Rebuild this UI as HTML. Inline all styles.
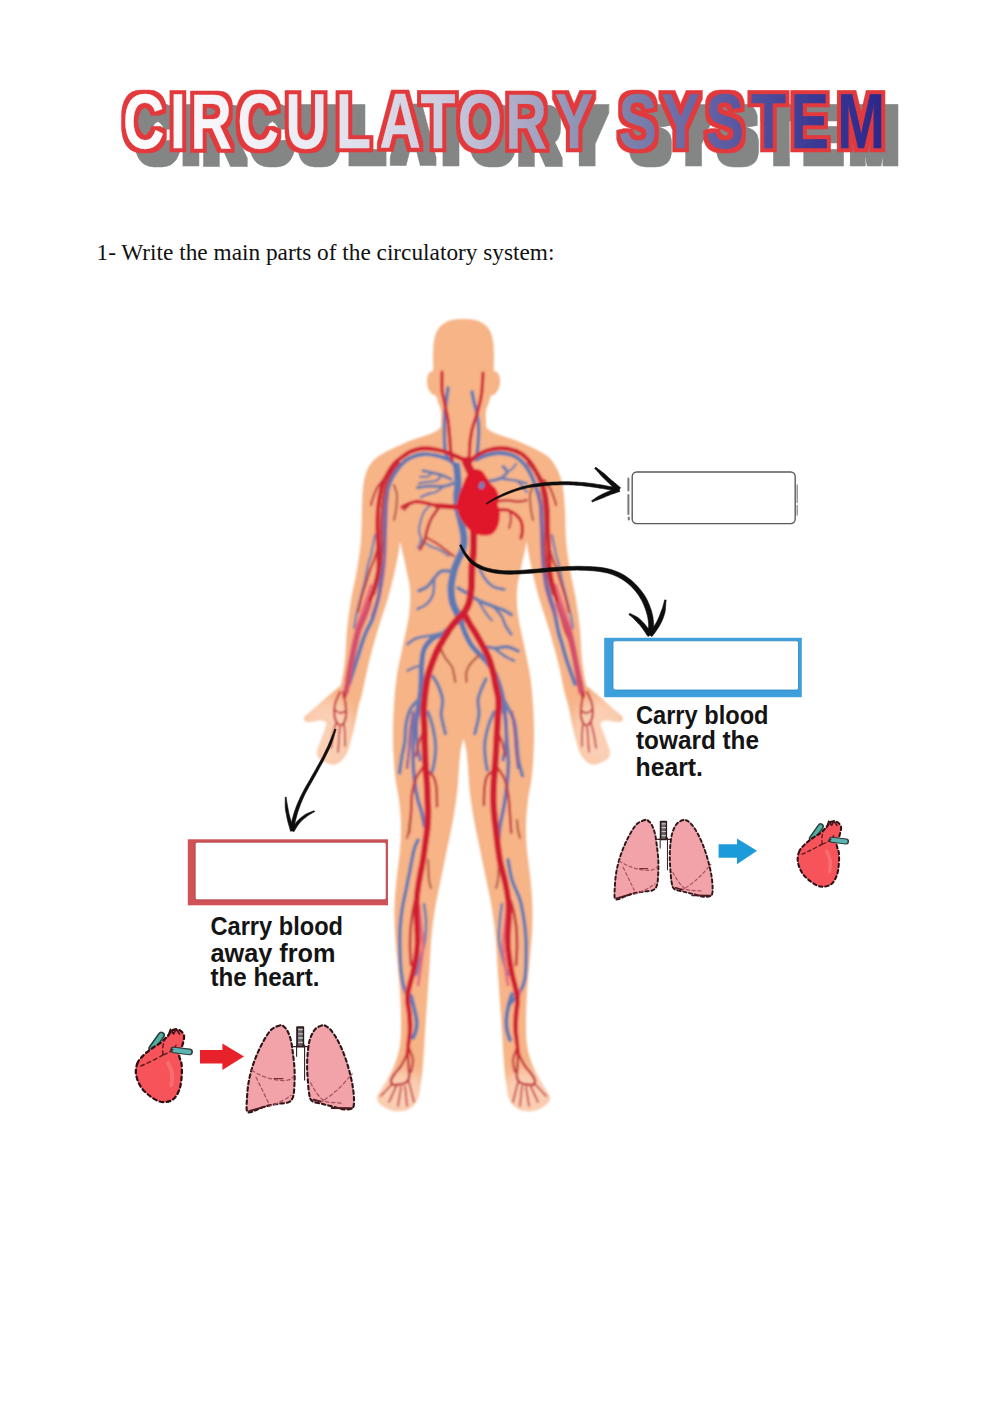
<!DOCTYPE html>
<html><head><meta charset="utf-8"><title>Circulatory System</title>
<style>
html,body{margin:0;padding:0;background:#fff;}
body{width:1000px;height:1413px;overflow:hidden;position:relative;}
svg{position:absolute;left:0;top:0;display:block;}
.title{font-family:"Liberation Sans",sans-serif;font-weight:bold;font-size:77.8px;}
.q{font-family:"Liberation Serif",serif;font-size:23.3px;fill:#111;}
.cap{font-family:"Liberation Sans","DejaVu Sans",sans-serif;font-weight:bold;font-size:25.5px;fill:#141414;}
.art{fill:none;stroke:#d3202f;stroke-linecap:round;stroke-linejoin:round;}
.vein{fill:none;stroke:#5f7fb6;stroke-linecap:round;stroke-linejoin:round;}
.arrow{fill:none;stroke:#111;stroke-linecap:round;stroke-linejoin:round;}
</style></head>
<body>
<svg width="1000" height="1413" viewBox="0 0 1000 1413">
<defs>
<linearGradient id="tg" gradientUnits="userSpaceOnUse" x1="170" y1="0" x2="1210" y2="0">
<stop offset="0" stop-color="#ffffff"/>
<stop offset="0.23" stop-color="#ececf4"/>
<stop offset="0.41" stop-color="#cdcde0"/>
<stop offset="0.52" stop-color="#aaaac6"/>
<stop offset="0.59" stop-color="#9094b4"/>
<stop offset="0.675" stop-color="#787daa"/>
<stop offset="0.785" stop-color="#5c5ca2"/>
<stop offset="0.9" stop-color="#3a3a94"/>
<stop offset="1" stop-color="#2a268a"/>
</linearGradient>
<filter id="wordart" filterUnits="userSpaceOnUse" x="100" y="-90" width="1200" height="140" color-interpolation-filters="sRGB">
<feMorphology in="SourceAlpha" operator="dilate" radius="5.3 3.9" result="d"/>
<feFlood flood-color="#e2393c"/><feComposite in2="d" operator="in" result="redsil"/>
<feOffset in="d" dx="18.2" dy="13.9" result="so"/>
<feFlood flood-color="#848686"/><feComposite in2="so" operator="in" result="shadow"/>
<feMerge><feMergeNode in="shadow"/><feMergeNode in="redsil"/><feMergeNode in="SourceGraphic"/></feMerge>
</filter>
<filter id="soft" x="-5%" y="-5%" width="110%" height="110%"><feGaussianBlur stdDeviation="1"/></filter>
<filter id="soft6" x="-20%" y="-20%" width="140%" height="140%"><feGaussianBlur stdDeviation="6"/></filter>
<filter id="soft2" x="-5%" y="-5%" width="110%" height="110%"><feGaussianBlur stdDeviation="0.55"/></filter>
</defs>
<!-- TITLE -->
<g id="title">
<g transform="translate(0,147.7) scale(0.735,1)" filter="url(#wordart)"><text class="title" x="167.3 231.4 259.2 323.1 388.3 457.1 516.2 572.2 622.8 687.8 755.0 816.3 841.8 899.9 960.2 1021.8 1075.7 1139.0" y="0" fill="url(#tg)" stroke="url(#tg)" stroke-width="0.3" stroke-linejoin="miter" stroke-miterlimit="3" style="vector-effect:non-scaling-stroke">CIRCULATORY SYSTEM</text></g>
</g>
<text class="q" x="96.5" y="259.5">1- Write the main parts of the circulatory system:</text>
<!-- BODY -->
<g id="body" filter="url(#soft)">
<clipPath id="bodyclip"><path d="M463.5 319.0C459.7 319.0 455.4 319.2 452.0 320.0C448.6 320.8 445.5 322.2 443.0 324.0C440.5 325.8 438.5 328.2 437.0 331.0C435.5 333.8 434.7 337.0 434.0 341.0C433.3 345.0 433.2 350.2 433.0 355.0C432.8 359.8 433.7 367.0 433.0 370.0C432.3 373.0 430.0 371.3 429.0 373.0C428.0 374.7 427.2 377.5 427.0 380.0C426.8 382.5 427.2 385.7 428.0 388.0C428.8 390.3 430.7 392.7 432.0 394.0C433.3 395.3 435.0 394.7 436.0 396.0C437.0 397.3 437.2 399.5 438.0 402.0C438.8 404.5 440.5 408.0 441.0 411.0C441.5 414.0 441.2 417.2 441.0 420.0C440.8 422.8 441.8 425.7 440.0 428.0C438.2 430.3 434.2 432.2 430.0 434.0C425.8 435.8 420.3 437.0 415.0 439.0C409.7 441.0 403.5 443.5 398.0 446.0C392.5 448.5 386.3 451.3 382.0 454.0C377.7 456.7 374.7 458.8 372.0 462.0C369.3 465.2 367.5 468.7 366.0 473.0C364.5 477.3 363.7 481.8 363.0 488.0C362.3 494.2 362.3 501.3 362.0 510.0C361.7 518.7 361.8 530.0 361.0 540.0C360.2 550.0 358.7 560.0 357.0 570.0C355.3 580.0 352.7 590.0 351.0 600.0C349.3 610.0 348.0 620.0 347.0 630.0C346.0 640.0 346.0 651.0 345.0 660.0C344.0 669.0 342.3 679.2 341.0 684.0C339.7 688.8 339.3 686.3 337.0 688.5C334.7 690.7 330.3 694.1 327.0 697.0C323.7 699.9 320.0 703.3 317.0 706.0C314.0 708.7 311.1 711.2 309.0 713.0C306.9 714.8 305.2 715.6 304.6 717.0C304.0 718.4 304.0 720.5 305.2 721.3C306.4 722.1 309.3 721.9 312.0 721.8C314.7 721.6 319.1 720.1 321.5 720.4C323.9 720.7 326.2 721.4 326.5 723.5C326.8 725.6 324.7 729.6 323.5 733.0C322.3 736.4 320.6 741.0 319.5 744.0C318.4 747.0 317.4 748.8 317.2 751.0C316.9 753.2 317.2 755.4 318.0 757.0C318.8 758.6 320.3 759.5 322.0 760.5C323.7 761.5 326.1 762.6 328.0 763.3C329.9 764.0 331.7 764.7 333.5 764.6C335.3 764.5 337.2 763.7 339.0 762.5C340.8 761.3 342.5 759.4 344.0 757.5C345.5 755.6 346.6 754.2 347.8 751.0C349.1 747.8 350.3 742.5 351.5 738.0C352.7 733.5 353.8 729.3 355.0 724.0C356.2 718.7 357.4 711.3 358.6 706.0C359.9 700.7 360.8 699.3 362.5 692.0C364.2 684.7 366.2 673.0 369.0 662.0C371.8 651.0 375.8 636.7 379.0 626.0C382.2 615.3 385.3 607.3 388.0 598.0C390.7 588.7 393.2 578.0 395.0 570.0C396.8 562.0 398.2 554.7 399.0 550.0C399.8 545.3 399.5 542.0 400.0 542.0C400.5 542.0 401.0 545.7 402.0 550.0C403.0 554.3 404.7 561.3 406.0 568.0C407.3 574.7 409.5 582.2 410.0 590.0C410.5 597.8 410.2 605.8 409.0 615.0C407.8 624.2 405.0 635.0 403.0 645.0C401.0 655.0 398.5 665.0 397.0 675.0C395.5 685.0 394.7 694.2 394.0 705.0C393.3 715.8 392.8 728.3 393.0 740.0C393.2 751.7 394.0 765.0 395.0 775.0C396.0 785.0 398.0 791.7 399.0 800.0C400.0 808.3 400.8 816.7 401.0 825.0C401.2 833.3 400.8 840.8 400.0 850.0C399.2 859.2 397.4 870.8 396.5 880.0C395.6 889.2 394.9 896.7 394.6 905.0C394.3 913.3 394.4 921.7 394.8 930.0C395.2 938.3 396.0 945.8 396.8 955.0C397.6 964.2 398.8 975.8 399.5 985.0C400.2 994.2 400.6 1002.5 400.8 1010.0C401.1 1017.5 401.1 1024.2 401.0 1030.0C400.9 1035.8 400.7 1040.3 400.0 1045.0C399.3 1049.7 398.2 1054.2 397.0 1058.0C395.8 1061.8 394.7 1064.3 393.0 1068.0C391.3 1071.7 389.0 1076.3 387.0 1080.0C385.0 1083.7 382.6 1087.2 381.0 1090.0C379.4 1092.8 377.6 1094.5 377.2 1096.5C376.8 1098.5 377.2 1100.2 378.5 1102.0C379.8 1103.8 382.2 1106.0 385.0 1107.5C387.8 1109.0 391.7 1110.5 395.0 1111.0C398.3 1111.5 402.0 1111.3 405.0 1110.5C408.0 1109.7 410.8 1108.2 413.0 1106.0C415.2 1103.8 417.2 1100.5 418.5 1097.0C419.8 1093.5 419.9 1089.2 420.5 1085.0C421.1 1080.8 421.8 1077.5 422.3 1072.0C422.9 1066.5 423.3 1059.3 423.8 1052.0C424.3 1044.7 424.7 1036.7 425.3 1028.0C425.9 1019.3 426.5 1010.5 427.2 1000.0C427.9 989.5 428.9 975.8 429.6 965.0C430.3 954.2 430.8 943.8 431.6 935.0C432.4 926.2 433.5 918.7 434.5 912.0C435.5 905.3 436.3 901.7 437.6 895.0C438.9 888.3 441.0 879.0 442.4 872.0C443.8 865.0 445.0 858.7 446.2 853.0C447.4 847.3 448.3 843.3 449.4 838.0C450.5 832.7 451.8 826.5 452.8 821.0C453.8 815.5 454.6 810.5 455.4 805.0C456.2 799.5 457.0 793.8 457.6 788.0C458.2 782.2 458.4 775.7 458.8 770.0C459.2 764.3 459.7 758.3 460.2 754.0C460.7 749.7 461.4 746.4 462.0 744.0C462.6 741.6 463.0 739.5 463.5 739.5C464.0 739.5 464.4 741.6 465.0 744.0C465.6 746.4 466.3 749.7 466.8 754.0C467.3 758.3 467.8 764.3 468.2 770.0C468.6 775.7 468.8 782.2 469.4 788.0C470.0 793.8 470.8 799.5 471.6 805.0C472.4 810.5 473.2 815.5 474.2 821.0C475.2 826.5 476.5 832.7 477.6 838.0C478.7 843.3 479.6 847.3 480.8 853.0C482.0 858.7 483.2 865.0 484.6 872.0C486.0 879.0 488.1 888.3 489.4 895.0C490.7 901.7 491.5 905.3 492.5 912.0C493.5 918.7 494.6 926.2 495.4 935.0C496.2 943.8 496.7 954.2 497.4 965.0C498.1 975.8 499.1 989.5 499.8 1000.0C500.5 1010.5 501.1 1019.3 501.7 1028.0C502.3 1036.7 502.7 1044.7 503.2 1052.0C503.7 1059.3 504.1 1066.5 504.7 1072.0C505.2 1077.5 505.9 1080.8 506.5 1085.0C507.1 1089.2 507.2 1093.5 508.5 1097.0C509.8 1100.5 511.8 1103.8 514.0 1106.0C516.2 1108.2 519.0 1109.7 522.0 1110.5C525.0 1111.3 528.7 1111.5 532.0 1111.0C535.3 1110.5 539.2 1109.0 542.0 1107.5C544.8 1106.0 547.2 1103.8 548.5 1102.0C549.8 1100.2 550.2 1098.5 549.8 1096.5C549.4 1094.5 547.6 1092.8 546.0 1090.0C544.4 1087.2 542.0 1083.7 540.0 1080.0C538.0 1076.3 535.7 1071.7 534.0 1068.0C532.3 1064.3 531.2 1061.8 530.0 1058.0C528.8 1054.2 527.7 1049.7 527.0 1045.0C526.3 1040.3 526.1 1035.8 526.0 1030.0C525.9 1024.2 526.0 1017.5 526.2 1010.0C526.5 1002.5 526.8 994.2 527.5 985.0C528.2 975.8 529.4 964.2 530.2 955.0C531.0 945.8 531.8 938.3 532.2 930.0C532.6 921.7 532.7 913.3 532.4 905.0C532.1 896.7 531.4 889.2 530.5 880.0C529.6 870.8 527.8 859.2 527.0 850.0C526.2 840.8 525.8 833.3 526.0 825.0C526.2 816.7 527.0 808.3 528.0 800.0C529.0 791.7 531.0 785.0 532.0 775.0C533.0 765.0 533.8 751.7 534.0 740.0C534.2 728.3 533.7 715.8 533.0 705.0C532.3 694.2 531.5 685.0 530.0 675.0C528.5 665.0 526.0 655.0 524.0 645.0C522.0 635.0 519.2 624.2 518.0 615.0C516.8 605.8 516.5 597.8 517.0 590.0C517.5 582.2 519.7 574.7 521.0 568.0C522.3 561.3 524.0 554.3 525.0 550.0C526.0 545.7 526.5 542.0 527.0 542.0C527.5 542.0 527.2 545.3 528.0 550.0C528.8 554.7 530.2 562.0 532.0 570.0C533.8 578.0 536.3 588.7 539.0 598.0C541.7 607.3 544.8 615.3 548.0 626.0C551.2 636.7 555.2 651.0 558.0 662.0C560.8 673.0 562.8 684.7 564.5 692.0C566.2 699.3 567.1 700.7 568.4 706.0C569.6 711.3 570.8 718.7 572.0 724.0C573.2 729.3 574.3 733.5 575.5 738.0C576.7 742.5 578.0 747.8 579.2 751.0C580.5 754.2 581.5 755.6 583.0 757.5C584.5 759.4 586.2 761.3 588.0 762.5C589.8 763.7 591.7 764.5 593.5 764.6C595.3 764.7 597.1 764.0 599.0 763.3C600.9 762.6 603.3 761.5 605.0 760.5C606.7 759.5 608.2 758.6 609.0 757.0C609.8 755.4 610.0 753.2 609.8 751.0C609.5 748.8 608.5 747.0 607.5 744.0C606.5 741.0 604.7 736.4 603.5 733.0C602.3 729.6 600.2 725.6 600.5 723.5C600.8 721.4 603.1 720.7 605.5 720.4C607.9 720.1 612.3 721.6 615.0 721.8C617.7 721.9 620.6 722.1 621.8 721.3C623.0 720.5 623.0 718.4 622.4 717.0C621.8 715.6 620.1 714.8 618.0 713.0C615.9 711.2 613.0 708.7 610.0 706.0C607.0 703.3 603.3 699.9 600.0 697.0C596.7 694.1 592.3 690.7 590.0 688.5C587.7 686.3 587.3 688.8 586.0 684.0C584.7 679.2 583.0 669.0 582.0 660.0C581.0 651.0 581.0 640.0 580.0 630.0C579.0 620.0 577.7 610.0 576.0 600.0C574.3 590.0 571.7 580.0 570.0 570.0C568.3 560.0 566.8 550.0 566.0 540.0C565.2 530.0 565.6 519.0 565.0 510.0C564.4 501.0 563.7 492.3 562.6 486.0C561.5 479.7 560.2 476.2 558.4 472.0C556.6 467.8 554.4 463.8 552.0 460.8C549.6 457.8 547.8 456.3 544.0 453.8C540.2 451.3 534.3 448.5 529.0 446.0C523.7 443.5 517.3 441.0 512.0 439.0C506.7 437.0 501.2 435.8 497.0 434.0C492.8 432.2 488.8 430.3 487.0 428.0C485.2 425.7 486.2 422.8 486.0 420.0C485.8 417.2 485.5 414.0 486.0 411.0C486.5 408.0 488.2 404.5 489.0 402.0C489.8 399.5 490.0 397.3 491.0 396.0C492.0 394.7 493.7 395.3 495.0 394.0C496.3 392.7 498.2 390.3 499.0 388.0C499.8 385.7 500.2 382.5 500.0 380.0C499.8 377.5 499.0 374.7 498.0 373.0C497.0 371.3 494.7 373.0 494.0 370.0C493.3 367.0 494.2 359.8 494.0 355.0C493.8 350.2 493.7 345.0 493.0 341.0C492.3 337.0 491.5 333.8 490.0 331.0C488.5 328.2 486.5 325.8 484.0 324.0C481.5 322.2 478.4 320.8 475.0 320.0C471.6 319.2 467.3 319.0 463.5 319.0Z"/></clipPath>
<path d="M463.5 319.0C459.7 319.0 455.4 319.2 452.0 320.0C448.6 320.8 445.5 322.2 443.0 324.0C440.5 325.8 438.5 328.2 437.0 331.0C435.5 333.8 434.7 337.0 434.0 341.0C433.3 345.0 433.2 350.2 433.0 355.0C432.8 359.8 433.7 367.0 433.0 370.0C432.3 373.0 430.0 371.3 429.0 373.0C428.0 374.7 427.2 377.5 427.0 380.0C426.8 382.5 427.2 385.7 428.0 388.0C428.8 390.3 430.7 392.7 432.0 394.0C433.3 395.3 435.0 394.7 436.0 396.0C437.0 397.3 437.2 399.5 438.0 402.0C438.8 404.5 440.5 408.0 441.0 411.0C441.5 414.0 441.2 417.2 441.0 420.0C440.8 422.8 441.8 425.7 440.0 428.0C438.2 430.3 434.2 432.2 430.0 434.0C425.8 435.8 420.3 437.0 415.0 439.0C409.7 441.0 403.5 443.5 398.0 446.0C392.5 448.5 386.3 451.3 382.0 454.0C377.7 456.7 374.7 458.8 372.0 462.0C369.3 465.2 367.5 468.7 366.0 473.0C364.5 477.3 363.7 481.8 363.0 488.0C362.3 494.2 362.3 501.3 362.0 510.0C361.7 518.7 361.8 530.0 361.0 540.0C360.2 550.0 358.7 560.0 357.0 570.0C355.3 580.0 352.7 590.0 351.0 600.0C349.3 610.0 348.0 620.0 347.0 630.0C346.0 640.0 346.0 651.0 345.0 660.0C344.0 669.0 342.3 679.2 341.0 684.0C339.7 688.8 339.3 686.3 337.0 688.5C334.7 690.7 330.3 694.1 327.0 697.0C323.7 699.9 320.0 703.3 317.0 706.0C314.0 708.7 311.1 711.2 309.0 713.0C306.9 714.8 305.2 715.6 304.6 717.0C304.0 718.4 304.0 720.5 305.2 721.3C306.4 722.1 309.3 721.9 312.0 721.8C314.7 721.6 319.1 720.1 321.5 720.4C323.9 720.7 326.2 721.4 326.5 723.5C326.8 725.6 324.7 729.6 323.5 733.0C322.3 736.4 320.6 741.0 319.5 744.0C318.4 747.0 317.4 748.8 317.2 751.0C316.9 753.2 317.2 755.4 318.0 757.0C318.8 758.6 320.3 759.5 322.0 760.5C323.7 761.5 326.1 762.6 328.0 763.3C329.9 764.0 331.7 764.7 333.5 764.6C335.3 764.5 337.2 763.7 339.0 762.5C340.8 761.3 342.5 759.4 344.0 757.5C345.5 755.6 346.6 754.2 347.8 751.0C349.1 747.8 350.3 742.5 351.5 738.0C352.7 733.5 353.8 729.3 355.0 724.0C356.2 718.7 357.4 711.3 358.6 706.0C359.9 700.7 360.8 699.3 362.5 692.0C364.2 684.7 366.2 673.0 369.0 662.0C371.8 651.0 375.8 636.7 379.0 626.0C382.2 615.3 385.3 607.3 388.0 598.0C390.7 588.7 393.2 578.0 395.0 570.0C396.8 562.0 398.2 554.7 399.0 550.0C399.8 545.3 399.5 542.0 400.0 542.0C400.5 542.0 401.0 545.7 402.0 550.0C403.0 554.3 404.7 561.3 406.0 568.0C407.3 574.7 409.5 582.2 410.0 590.0C410.5 597.8 410.2 605.8 409.0 615.0C407.8 624.2 405.0 635.0 403.0 645.0C401.0 655.0 398.5 665.0 397.0 675.0C395.5 685.0 394.7 694.2 394.0 705.0C393.3 715.8 392.8 728.3 393.0 740.0C393.2 751.7 394.0 765.0 395.0 775.0C396.0 785.0 398.0 791.7 399.0 800.0C400.0 808.3 400.8 816.7 401.0 825.0C401.2 833.3 400.8 840.8 400.0 850.0C399.2 859.2 397.4 870.8 396.5 880.0C395.6 889.2 394.9 896.7 394.6 905.0C394.3 913.3 394.4 921.7 394.8 930.0C395.2 938.3 396.0 945.8 396.8 955.0C397.6 964.2 398.8 975.8 399.5 985.0C400.2 994.2 400.6 1002.5 400.8 1010.0C401.1 1017.5 401.1 1024.2 401.0 1030.0C400.9 1035.8 400.7 1040.3 400.0 1045.0C399.3 1049.7 398.2 1054.2 397.0 1058.0C395.8 1061.8 394.7 1064.3 393.0 1068.0C391.3 1071.7 389.0 1076.3 387.0 1080.0C385.0 1083.7 382.6 1087.2 381.0 1090.0C379.4 1092.8 377.6 1094.5 377.2 1096.5C376.8 1098.5 377.2 1100.2 378.5 1102.0C379.8 1103.8 382.2 1106.0 385.0 1107.5C387.8 1109.0 391.7 1110.5 395.0 1111.0C398.3 1111.5 402.0 1111.3 405.0 1110.5C408.0 1109.7 410.8 1108.2 413.0 1106.0C415.2 1103.8 417.2 1100.5 418.5 1097.0C419.8 1093.5 419.9 1089.2 420.5 1085.0C421.1 1080.8 421.8 1077.5 422.3 1072.0C422.9 1066.5 423.3 1059.3 423.8 1052.0C424.3 1044.7 424.7 1036.7 425.3 1028.0C425.9 1019.3 426.5 1010.5 427.2 1000.0C427.9 989.5 428.9 975.8 429.6 965.0C430.3 954.2 430.8 943.8 431.6 935.0C432.4 926.2 433.5 918.7 434.5 912.0C435.5 905.3 436.3 901.7 437.6 895.0C438.9 888.3 441.0 879.0 442.4 872.0C443.8 865.0 445.0 858.7 446.2 853.0C447.4 847.3 448.3 843.3 449.4 838.0C450.5 832.7 451.8 826.5 452.8 821.0C453.8 815.5 454.6 810.5 455.4 805.0C456.2 799.5 457.0 793.8 457.6 788.0C458.2 782.2 458.4 775.7 458.8 770.0C459.2 764.3 459.7 758.3 460.2 754.0C460.7 749.7 461.4 746.4 462.0 744.0C462.6 741.6 463.0 739.5 463.5 739.5C464.0 739.5 464.4 741.6 465.0 744.0C465.6 746.4 466.3 749.7 466.8 754.0C467.3 758.3 467.8 764.3 468.2 770.0C468.6 775.7 468.8 782.2 469.4 788.0C470.0 793.8 470.8 799.5 471.6 805.0C472.4 810.5 473.2 815.5 474.2 821.0C475.2 826.5 476.5 832.7 477.6 838.0C478.7 843.3 479.6 847.3 480.8 853.0C482.0 858.7 483.2 865.0 484.6 872.0C486.0 879.0 488.1 888.3 489.4 895.0C490.7 901.7 491.5 905.3 492.5 912.0C493.5 918.7 494.6 926.2 495.4 935.0C496.2 943.8 496.7 954.2 497.4 965.0C498.1 975.8 499.1 989.5 499.8 1000.0C500.5 1010.5 501.1 1019.3 501.7 1028.0C502.3 1036.7 502.7 1044.7 503.2 1052.0C503.7 1059.3 504.1 1066.5 504.7 1072.0C505.2 1077.5 505.9 1080.8 506.5 1085.0C507.1 1089.2 507.2 1093.5 508.5 1097.0C509.8 1100.5 511.8 1103.8 514.0 1106.0C516.2 1108.2 519.0 1109.7 522.0 1110.5C525.0 1111.3 528.7 1111.5 532.0 1111.0C535.3 1110.5 539.2 1109.0 542.0 1107.5C544.8 1106.0 547.2 1103.8 548.5 1102.0C549.8 1100.2 550.2 1098.5 549.8 1096.5C549.4 1094.5 547.6 1092.8 546.0 1090.0C544.4 1087.2 542.0 1083.7 540.0 1080.0C538.0 1076.3 535.7 1071.7 534.0 1068.0C532.3 1064.3 531.2 1061.8 530.0 1058.0C528.8 1054.2 527.7 1049.7 527.0 1045.0C526.3 1040.3 526.1 1035.8 526.0 1030.0C525.9 1024.2 526.0 1017.5 526.2 1010.0C526.5 1002.5 526.8 994.2 527.5 985.0C528.2 975.8 529.4 964.2 530.2 955.0C531.0 945.8 531.8 938.3 532.2 930.0C532.6 921.7 532.7 913.3 532.4 905.0C532.1 896.7 531.4 889.2 530.5 880.0C529.6 870.8 527.8 859.2 527.0 850.0C526.2 840.8 525.8 833.3 526.0 825.0C526.2 816.7 527.0 808.3 528.0 800.0C529.0 791.7 531.0 785.0 532.0 775.0C533.0 765.0 533.8 751.7 534.0 740.0C534.2 728.3 533.7 715.8 533.0 705.0C532.3 694.2 531.5 685.0 530.0 675.0C528.5 665.0 526.0 655.0 524.0 645.0C522.0 635.0 519.2 624.2 518.0 615.0C516.8 605.8 516.5 597.8 517.0 590.0C517.5 582.2 519.7 574.7 521.0 568.0C522.3 561.3 524.0 554.3 525.0 550.0C526.0 545.7 526.5 542.0 527.0 542.0C527.5 542.0 527.2 545.3 528.0 550.0C528.8 554.7 530.2 562.0 532.0 570.0C533.8 578.0 536.3 588.7 539.0 598.0C541.7 607.3 544.8 615.3 548.0 626.0C551.2 636.7 555.2 651.0 558.0 662.0C560.8 673.0 562.8 684.7 564.5 692.0C566.2 699.3 567.1 700.7 568.4 706.0C569.6 711.3 570.8 718.7 572.0 724.0C573.2 729.3 574.3 733.5 575.5 738.0C576.7 742.5 578.0 747.8 579.2 751.0C580.5 754.2 581.5 755.6 583.0 757.5C584.5 759.4 586.2 761.3 588.0 762.5C589.8 763.7 591.7 764.5 593.5 764.6C595.3 764.7 597.1 764.0 599.0 763.3C600.9 762.6 603.3 761.5 605.0 760.5C606.7 759.5 608.2 758.6 609.0 757.0C609.8 755.4 610.0 753.2 609.8 751.0C609.5 748.8 608.5 747.0 607.5 744.0C606.5 741.0 604.7 736.4 603.5 733.0C602.3 729.6 600.2 725.6 600.5 723.5C600.8 721.4 603.1 720.7 605.5 720.4C607.9 720.1 612.3 721.6 615.0 721.8C617.7 721.9 620.6 722.1 621.8 721.3C623.0 720.5 623.0 718.4 622.4 717.0C621.8 715.6 620.1 714.8 618.0 713.0C615.9 711.2 613.0 708.7 610.0 706.0C607.0 703.3 603.3 699.9 600.0 697.0C596.7 694.1 592.3 690.7 590.0 688.5C587.7 686.3 587.3 688.8 586.0 684.0C584.7 679.2 583.0 669.0 582.0 660.0C581.0 651.0 581.0 640.0 580.0 630.0C579.0 620.0 577.7 610.0 576.0 600.0C574.3 590.0 571.7 580.0 570.0 570.0C568.3 560.0 566.8 550.0 566.0 540.0C565.2 530.0 565.6 519.0 565.0 510.0C564.4 501.0 563.7 492.3 562.6 486.0C561.5 479.7 560.2 476.2 558.4 472.0C556.6 467.8 554.4 463.8 552.0 460.8C549.6 457.8 547.8 456.3 544.0 453.8C540.2 451.3 534.3 448.5 529.0 446.0C523.7 443.5 517.3 441.0 512.0 439.0C506.7 437.0 501.2 435.8 497.0 434.0C492.8 432.2 488.8 430.3 487.0 428.0C485.2 425.7 486.2 422.8 486.0 420.0C485.8 417.2 485.5 414.0 486.0 411.0C486.5 408.0 488.2 404.5 489.0 402.0C489.8 399.5 490.0 397.3 491.0 396.0C492.0 394.7 493.7 395.3 495.0 394.0C496.3 392.7 498.2 390.3 499.0 388.0C499.8 385.7 500.2 382.5 500.0 380.0C499.8 377.5 499.0 374.7 498.0 373.0C497.0 371.3 494.7 373.0 494.0 370.0C493.3 367.0 494.2 359.8 494.0 355.0C493.8 350.2 493.7 345.0 493.0 341.0C492.3 337.0 491.5 333.8 490.0 331.0C488.5 328.2 486.5 325.8 484.0 324.0C481.5 322.2 478.4 320.8 475.0 320.0C471.6 319.2 467.3 319.0 463.5 319.0Z" fill="#f6b487"/>
<g clip-path="url(#bodyclip)"><g fill="#ffe9df" opacity="0.5" filter="url(#soft6)"><ellipse cx="328" cy="734" rx="28" ry="36"/><ellipse cx="599" cy="734" rx="28" ry="36"/><ellipse cx="399" cy="1094" rx="28" ry="24"/><ellipse cx="528" cy="1094" rx="28" ry="24"/></g></g>
<g id="veins-arteries" fill="none" stroke-linecap="round" stroke-linejoin="round">
<path d="M456.6 466.0C456.8 468.7 458.0 477.0 458.0 482.0C458.0 487.0 456.8 491.3 456.8 496.0C456.8 500.7 457.2 505.3 458.0 510.0C458.8 514.7 460.5 519.3 461.5 524.0C462.5 528.7 463.8 533.8 464.0 538.0C464.2 542.2 463.9 545.5 463.0 549.0C462.1 552.5 459.9 555.7 458.5 559.0C457.1 562.3 455.5 565.6 454.5 568.8C453.5 572.0 453.0 574.8 452.4 578.0C451.8 581.2 451.0 584.0 451.0 588.0C451.0 592.0 451.5 598.0 452.4 602.0C453.3 606.0 455.2 608.5 456.6 611.8C458.0 615.1 460.1 620.0 460.8 621.6" stroke="#5b79b4" stroke-width="7.02"/>
<path d="M456.6 622.0C454.5 623.8 448.1 630.0 444.0 632.8C439.9 635.6 435.3 636.2 432.0 639.0C428.7 641.8 425.7 645.3 424.0 649.6C422.3 653.9 422.1 658.9 421.6 665.0C421.1 671.1 421.4 680.2 421.0 686.0C420.6 691.8 420.2 695.0 419.5 700.0C418.8 705.0 417.4 713.3 417.0 716.0" stroke="#5b79b4" stroke-width="5.10"/>
<path d="M418.5 706.0C417.8 708.7 415.4 716.0 414.5 722.0C413.6 728.0 413.4 735.2 413.2 742.0C413.0 748.8 413.0 756.5 413.2 763.0C413.4 769.5 413.9 775.4 414.6 781.2C415.3 787.0 416.2 792.9 417.4 798.0C418.6 803.1 420.4 807.3 421.6 812.0C422.8 816.7 423.9 823.7 424.4 826.0" stroke="#6a74b0" stroke-width="3.66"/>
<path d="M460.8 621.6C461.5 623.5 463.4 629.1 465.0 632.8C466.6 636.5 468.5 640.7 470.6 644.0C472.7 647.3 475.0 649.6 477.6 652.4C480.2 655.2 483.3 657.7 486.0 661.0C488.7 664.3 491.8 667.8 494.0 672.0C496.2 676.2 498.0 681.3 499.5 686.0C501.0 690.7 502.2 695.7 503.0 700.0C503.8 704.3 504.2 710.0 504.5 712.0" stroke="#5b79b4" stroke-width="5.10"/>
<path d="M503.5 704.0C503.8 706.8 504.9 714.7 505.5 721.0C506.1 727.3 506.5 735.0 507.0 742.0C507.5 749.0 508.4 756.0 508.4 763.0C508.4 770.0 507.7 777.0 507.0 784.0C506.3 791.0 505.4 798.0 504.2 805.0C503.0 812.0 500.9 820.2 500.0 826.0C499.1 831.8 498.8 837.7 498.6 840.0" stroke="#6a74b0" stroke-width="3.66"/>
<path d="M448.0 388.0C447.8 390.0 447.0 396.0 446.5 400.0C446.0 404.0 445.3 407.8 445.0 412.0C444.7 416.2 444.6 420.3 444.5 425.0C444.4 429.7 444.4 435.5 444.5 440.0C444.6 444.5 444.6 448.7 445.4 452.0C446.1 455.3 448.4 458.7 449.0 460.0" stroke="#5b79b4" stroke-width="3.42"/>
<path d="M472.0 392.0C472.3 393.7 473.2 398.7 474.0 402.0C474.8 405.3 475.8 408.3 476.5 412.0C477.2 415.7 478.2 419.7 478.5 424.0C478.8 428.3 478.7 433.7 478.5 438.0C478.3 442.3 477.9 446.4 477.5 450.0C477.1 453.6 476.4 458.0 476.2 459.6" stroke="#5b79b4" stroke-width="3.42"/>
<path d="M456.6 468.0C455.7 466.8 454.3 463.1 451.0 461.0C447.7 458.9 441.7 456.7 437.0 455.6C432.3 454.5 427.2 454.0 423.0 454.2C418.8 454.4 415.2 455.7 412.0 457.0C408.8 458.3 406.5 459.8 404.0 462.0C401.5 464.2 399.2 467.0 397.0 470.0C394.8 473.0 392.7 476.3 391.0 480.0C389.3 483.7 388.0 487.8 387.0 492.0C386.0 496.2 385.5 500.3 385.0 505.0C384.5 509.7 384.3 515.0 384.0 520.0C383.7 525.0 383.3 530.0 383.0 535.0C382.7 540.0 382.3 545.0 382.0 550.0C381.7 555.0 381.2 560.0 381.0 565.0C380.8 570.0 380.8 575.0 380.5 580.0C380.2 585.0 379.8 590.5 379.0 595.0C378.2 599.5 377.2 602.8 376.0 607.0C374.8 611.2 373.5 616.2 372.0 620.0C370.5 623.8 368.5 626.7 367.0 630.0C365.5 633.3 364.5 635.7 363.0 640.0C361.5 644.3 359.7 650.7 358.0 656.0C356.3 661.3 354.5 667.3 353.0 672.0C351.5 676.7 349.7 682.0 349.0 684.0" stroke="#5b79b4" stroke-width="3.90"/>
<path d="M476.2 459.6C477.8 458.9 482.0 456.5 486.0 455.4C490.0 454.3 495.3 452.9 500.0 453.0C504.7 453.1 509.9 454.1 514.0 456.0C518.1 457.9 521.6 461.2 524.5 464.5C527.4 467.8 529.5 471.9 531.5 476.0C533.5 480.1 535.0 484.3 536.5 489.0C538.0 493.7 539.7 499.5 540.5 504.0C541.3 508.5 541.2 511.7 541.5 516.0C541.8 520.3 541.8 524.3 542.0 530.0C542.2 535.7 542.7 543.3 543.0 550.0C543.3 556.7 543.2 563.3 544.0 570.0C544.8 576.7 546.3 583.3 548.0 590.0C549.7 596.7 552.3 603.3 554.0 610.0C555.7 616.7 556.7 624.3 558.0 630.0C559.3 635.7 560.7 639.3 562.0 644.0C563.3 648.7 564.7 653.7 566.0 658.0C567.3 662.3 568.5 665.7 570.0 670.0C571.5 674.3 574.2 681.7 575.0 684.0" stroke="#5b79b4" stroke-width="3.90"/>
<path d="M375.0 535.0C374.7 536.7 373.7 541.7 373.0 545.0C372.3 548.3 371.8 551.7 371.0 555.0C370.2 558.3 369.0 560.8 368.0 565.0C367.0 569.2 366.2 574.8 365.0 580.0C363.8 585.2 362.3 590.7 361.0 596.0C359.7 601.3 358.2 606.7 357.0 612.0C355.8 617.3 354.5 625.3 354.0 628.0" stroke="#6b7fae" stroke-width="2.22"/>
<path d="M552.0 535.0C552.3 536.7 553.3 541.7 554.0 545.0C554.7 548.3 555.2 551.7 556.0 555.0C556.8 558.3 558.0 560.8 559.0 565.0C560.0 569.2 560.8 574.8 562.0 580.0C563.2 585.2 564.7 590.7 566.0 596.0C567.3 601.3 568.8 606.7 570.0 612.0C571.2 617.3 572.5 625.3 573.0 628.0" stroke="#6b7fae" stroke-width="2.22"/>
<path d="M456.6 482.0C454.5 482.7 448.4 485.5 444.0 486.2C439.6 486.9 434.4 486.0 430.0 486.2C425.6 486.4 419.5 487.4 417.4 487.6" stroke="#6b7fae" stroke-width="3.18"/>
<path d="M451.0 479.2C449.4 478.5 444.7 476.2 441.2 475.0C437.7 473.8 433.0 472.9 430.0 472.2C427.0 471.5 424.2 471.0 423.0 470.8" stroke="#6b7fae" stroke-width="2.94"/>
<path d="M441.2 475.0C440.5 475.9 439.5 479.3 437.0 480.5C434.5 481.7 429.0 481.5 426.0 482.0C423.0 482.5 420.2 483.2 419.0 483.5" stroke="#6b7fae" stroke-width="2.46"/>
<path d="M444.0 486.2C442.7 487.2 438.7 490.7 436.0 492.0C433.3 493.3 430.5 493.2 428.0 494.0C425.5 494.8 422.2 496.5 421.0 497.0" stroke="#6b7fae" stroke-width="2.46"/>
<path d="M432.0 472.6C431.3 473.2 430.0 475.8 428.0 476.5C426.0 477.2 421.3 476.9 420.0 477.0" stroke="#6b7fae" stroke-width="2.22"/>
<path d="M430.0 505.0C429.0 506.2 425.5 509.5 424.0 512.0C422.5 514.5 421.8 517.0 421.0 520.0C420.2 523.0 419.0 526.7 419.0 530.0C419.0 533.3 421.2 537.0 421.0 540.0C420.8 543.0 418.5 546.7 418.0 548.0" stroke="#6b7fae" stroke-width="2.22"/>
<path d="M421.0 540.0C422.5 541.0 426.8 544.3 430.0 546.0C433.2 547.7 436.8 548.3 440.0 550.0C443.2 551.7 447.5 555.0 449.0 556.0" stroke="#6b7fae" stroke-width="2.22"/>
<path d="M487.4 481.5C489.5 481.0 496.7 480.1 500.0 478.5C503.3 476.9 506.5 474.2 507.0 472.2C507.5 470.2 503.7 467.5 503.0 466.6" stroke="#6b7fae" stroke-width="3.18"/>
<path d="M500.0 478.5C501.2 478.6 504.2 479.0 507.0 479.4C509.8 479.8 513.5 480.1 516.8 480.8C520.1 481.5 525.0 483.0 526.6 483.4" stroke="#6b7fae" stroke-width="2.70"/>
<path d="M507.0 472.2C507.8 471.7 510.5 470.4 512.0 469.0C513.5 467.6 515.3 464.8 516.0 464.0" stroke="#6b7fae" stroke-width="2.22"/>
<path d="M516.8 480.8C517.7 481.7 520.3 484.1 522.0 486.0C523.7 487.9 526.2 491.0 527.0 492.0" stroke="#6b7fae" stroke-width="2.22"/>
<path d="M452.0 571.2C450.2 571.2 444.2 570.0 441.2 571.2C438.2 572.4 436.5 575.6 434.2 578.2C431.9 580.8 429.8 584.5 427.2 586.6C424.6 588.7 420.2 590.1 418.8 590.8" stroke="#6b7fae" stroke-width="3.42"/>
<path d="M434.2 580.0C434.0 582.5 434.2 590.9 432.8 595.0C431.4 599.1 428.4 602.5 425.8 604.8C423.2 607.1 418.8 608.3 417.4 609.0" stroke="#6b7fae" stroke-width="2.70"/>
<path d="M444.0 632.8C441.7 633.3 434.7 634.7 430.0 635.6C425.3 636.5 419.7 637.0 416.0 638.4C412.3 639.8 409.0 643.1 407.6 644.0" stroke="#6b7fae" stroke-width="2.94"/>
<path d="M421.6 665.0C420.2 665.5 415.5 666.9 413.2 667.8C410.9 668.7 408.5 670.1 407.6 670.6" stroke="#6b7fae" stroke-width="2.46"/>
<path d="M432.8 676.2C433.7 677.8 436.8 682.0 438.4 686.0C440.0 690.0 442.1 695.3 442.6 700.0C443.1 704.7 441.0 709.3 441.2 714.0C441.4 718.7 443.3 724.7 444.0 728.0C444.7 731.3 445.2 732.7 445.4 733.6" stroke="#6b7fae" stroke-width="3.42"/>
<path d="M479.0 567.0C479.9 568.9 482.3 574.9 484.6 578.2C486.9 581.5 489.7 584.7 493.0 586.6C496.3 588.5 502.3 588.9 504.2 589.4" stroke="#6b7fae" stroke-width="2.94"/>
<path d="M458.0 588.0C459.6 588.9 464.3 591.5 467.8 593.6C471.3 595.7 474.8 598.5 479.0 600.6C483.2 602.7 488.8 604.6 493.0 606.2C497.2 607.8 501.2 609.0 504.2 610.4C507.2 611.8 510.0 613.9 511.2 614.6" stroke="#6b7fae" stroke-width="3.66"/>
<path d="M493.0 606.2C494.4 607.8 499.3 612.7 501.4 616.0C503.5 619.3 504.0 622.8 505.6 625.8C507.2 628.8 510.3 632.8 511.2 634.2" stroke="#6b7fae" stroke-width="2.94"/>
<path d="M479.0 602.0C480.2 603.9 483.9 610.2 486.0 613.2C488.1 616.2 490.7 619.0 491.6 620.2" stroke="#6b7fae" stroke-width="2.46"/>
<path d="M486.0 646.8C487.6 647.0 492.3 648.2 495.8 648.2C499.3 648.2 503.3 646.3 507.0 646.8C510.7 647.3 516.3 650.3 518.2 651.0" stroke="#6b7fae" stroke-width="3.42"/>
<path d="M495.8 649.6C497.4 650.8 502.6 654.7 505.6 656.6C508.6 658.5 512.6 660.1 514.0 660.8" stroke="#6b7fae" stroke-width="2.70"/>
<path d="M486.0 679.0C485.2 680.8 482.3 686.5 481.0 690.0C479.7 693.5 478.3 696.0 478.0 700.0C477.7 704.0 479.3 709.3 479.0 714.0C478.7 718.7 476.9 724.7 476.2 728.0C475.5 731.3 475.0 732.7 474.8 733.6" stroke="#6b7fae" stroke-width="3.42"/>
<path d="M418.0 700.0C416.7 701.7 412.0 705.8 410.0 710.0C408.0 714.2 406.9 719.7 406.0 725.0C405.1 730.3 405.5 736.8 404.8 742.0C404.1 747.2 402.9 750.9 402.0 756.0C401.1 761.1 399.9 770.0 399.5 772.8" stroke="#6b7fae" stroke-width="3.66"/>
<path d="M421.0 704.0C420.4 706.0 418.2 711.7 417.5 716.0C416.8 720.3 416.5 725.0 416.5 730.0C416.5 735.0 416.9 741.0 417.5 746.0C418.1 751.0 419.6 757.7 420.0 760.0" stroke="#6a74b0" stroke-width="3.18"/>
<path d="M413.0 712.0C412.6 715.0 411.2 723.7 410.5 730.0C409.8 736.3 409.6 743.7 409.0 750.0C408.4 756.3 407.3 765.0 407.0 768.0" stroke="#8d5f9f" stroke-width="2.46"/>
<path d="M428.0 712.0C428.7 714.0 430.9 719.7 432.0 724.0C433.1 728.3 434.2 733.8 434.8 738.0C435.4 742.2 435.7 744.8 435.6 749.0C435.5 753.2 434.8 759.2 434.2 763.0C433.6 766.8 432.4 770.5 432.0 772.0" stroke="#6b7fae" stroke-width="3.42"/>
<path d="M505.0 702.0C506.5 705.2 512.0 714.3 514.0 721.0C516.0 727.7 516.1 735.7 516.8 742.0C517.5 748.3 517.3 753.2 518.2 758.8C519.1 764.4 521.7 772.8 522.4 775.6" stroke="#6b7fae" stroke-width="3.66"/>
<path d="M502.0 704.0C502.6 706.0 504.8 711.7 505.5 716.0C506.2 720.3 506.5 725.0 506.5 730.0C506.5 735.0 506.1 741.0 505.5 746.0C504.9 751.0 503.4 757.7 503.0 760.0" stroke="#6a74b0" stroke-width="3.18"/>
<path d="M512.0 712.0C512.4 715.0 513.8 723.7 514.5 730.0C515.2 736.3 515.4 743.7 516.0 750.0C516.6 756.3 517.7 765.0 518.0 768.0" stroke="#8d5f9f" stroke-width="2.46"/>
<path d="M494.0 712.0C493.2 714.0 490.4 719.7 489.0 724.0C487.6 728.3 486.2 733.8 485.5 738.0C484.8 742.2 484.5 744.8 484.6 749.0C484.7 753.2 485.5 759.5 486.0 763.0C486.5 766.5 487.2 768.8 487.4 770.0" stroke="#6b7fae" stroke-width="3.42"/>
<path d="M418.0 840.0C417.3 841.7 415.3 845.0 414.0 850.0C412.7 855.0 411.3 863.3 410.0 870.0C408.7 876.7 407.3 883.3 406.0 890.0C404.7 896.7 403.0 903.3 402.0 910.0C401.0 916.7 400.3 923.3 400.0 930.0C399.7 936.7 399.8 943.3 400.0 950.0C400.2 956.7 400.3 963.7 401.0 970.0C401.7 976.3 402.7 983.3 404.0 988.0C405.3 992.7 407.5 995.3 409.0 998.0C410.5 1000.7 412.3 1003.0 413.0 1004.0" stroke="#5b79b4" stroke-width="3.42"/>
<path d="M508.0 860.0C508.7 863.3 510.0 873.3 512.0 880.0C514.0 886.7 518.0 893.3 520.0 900.0C522.0 906.7 523.0 913.3 524.0 920.0C525.0 926.7 525.7 933.3 526.0 940.0C526.3 946.7 526.2 953.7 526.0 960.0C525.8 966.3 525.8 973.0 525.0 978.0C524.2 983.0 522.7 986.7 521.0 990.0C519.3 993.3 516.8 995.7 515.0 998.0C513.2 1000.3 510.8 1003.0 510.0 1004.0" stroke="#5b79b4" stroke-width="3.42"/>
<path d="M424.0 904.0C424.3 906.7 425.8 914.0 426.0 920.0C426.2 926.0 426.0 933.3 425.0 940.0C424.0 946.7 421.5 954.2 420.0 960.0C418.5 965.8 416.7 972.5 416.0 975.0" stroke="#6b7fae" stroke-width="2.70"/>
<path d="M502.0 904.0C501.7 906.7 500.5 914.0 500.0 920.0C499.5 926.0 498.5 933.3 499.0 940.0C499.5 946.7 501.5 954.2 503.0 960.0C504.5 965.8 507.2 972.5 508.0 975.0" stroke="#6b7fae" stroke-width="2.70"/>
<path d="M419.0 905.0C419.3 908.3 420.3 918.3 421.0 925.0C421.7 931.7 423.0 938.3 423.0 945.0C423.0 951.7 421.8 958.3 421.0 965.0C420.2 971.7 418.5 981.7 418.0 985.0" stroke="#e7667f" stroke-width="2.70"/>
<path d="M507.0 905.0C506.7 908.3 505.7 918.3 505.0 925.0C504.3 931.7 503.0 938.3 503.0 945.0C503.0 951.7 504.2 958.3 505.0 965.0C505.8 971.7 507.5 981.7 508.0 985.0" stroke="#e7667f" stroke-width="2.70"/>
<path d="M411.0 996.0C411.5 998.0 413.1 1004.0 414.0 1008.0C414.9 1012.0 416.2 1016.3 416.5 1020.0C416.8 1023.7 416.6 1027.0 416.0 1030.0C415.4 1033.0 413.5 1036.7 413.0 1038.0" stroke="#5b79b4" stroke-width="3.90"/>
<path d="M512.0 994.0C511.4 996.0 509.4 1002.0 508.5 1006.0C507.6 1010.0 506.8 1014.0 506.5 1018.0C506.2 1022.0 506.4 1026.3 507.0 1030.0C507.6 1033.7 509.5 1038.3 510.0 1040.0" stroke="#5b79b4" stroke-width="3.90"/>
<path d="M406.0 990.0C406.3 991.7 407.5 997.3 408.0 1000.0C408.5 1002.7 408.8 1005.0 409.0 1006.0" stroke="#e7667f" stroke-width="2.70"/>
<path d="M520.0 990.0C519.7 991.7 518.5 997.3 518.0 1000.0C517.5 1002.7 517.2 1005.0 517.0 1006.0" stroke="#e7667f" stroke-width="2.70"/>
<path d="M442.0 372.0C442.0 375.0 441.7 385.3 442.0 390.0C442.3 394.7 443.3 396.7 444.0 400.0C444.7 403.3 445.3 406.7 446.0 410.0C446.7 413.3 447.5 416.7 448.0 420.0C448.5 423.3 448.7 426.3 449.0 430.0C449.3 433.7 449.7 438.0 450.0 442.0C450.3 446.0 450.7 451.0 451.0 454.0C451.3 457.0 451.8 459.0 452.0 460.0" stroke="#d21f31" stroke-width="3.18"/>
<path d="M483.0 373.0C482.8 375.8 482.4 385.5 482.0 390.0C481.6 394.5 481.2 396.7 480.5 400.0C479.8 403.3 478.9 406.7 478.0 410.0C477.1 413.3 476.0 416.7 475.0 420.0C474.0 423.3 472.8 426.3 472.0 430.0C471.2 433.7 470.4 438.3 470.0 442.0C469.6 445.7 469.6 449.0 469.5 452.0C469.4 455.0 469.2 458.7 469.2 460.0" stroke="#d21f31" stroke-width="3.18"/>
<path d="M466.4 461.0C463.8 459.8 455.9 455.9 451.0 454.0C446.1 452.1 441.7 450.7 437.0 449.8C432.3 448.9 427.2 448.2 423.0 448.4C418.8 448.6 415.0 449.9 412.0 451.0C409.0 452.1 407.8 453.0 405.0 455.0C402.2 457.0 397.8 460.0 395.0 463.0C392.2 466.0 390.0 469.7 388.0 473.0C386.0 476.3 384.3 479.3 383.0 483.0C381.7 486.7 380.8 490.5 380.0 495.0C379.2 499.5 378.4 505.0 378.0 510.0C377.6 515.0 377.5 520.0 377.5 525.0C377.5 530.0 377.8 535.0 378.0 540.0C378.2 545.0 378.4 550.0 378.5 555.0C378.6 560.0 378.9 565.0 378.3 570.0C377.7 575.0 376.4 580.0 375.0 585.0C373.6 590.0 371.7 595.0 370.0 600.0C368.3 605.0 366.8 610.5 365.0 615.0C363.2 619.5 360.7 622.8 359.0 627.0C357.3 631.2 356.2 635.3 355.0 640.0C353.8 644.7 353.0 650.0 352.0 655.0C351.0 660.0 349.8 665.0 349.0 670.0C348.2 675.0 347.8 680.7 347.0 685.0C346.2 689.3 344.9 694.2 344.5 696.0" stroke="#d21f31" stroke-width="4.14"/>
<path d="M470.6 461.0C472.0 459.8 475.3 456.0 479.0 454.0C482.7 452.0 488.3 449.9 493.0 449.0C497.7 448.1 502.3 447.8 507.0 448.6C511.7 449.4 517.1 451.3 521.0 453.6C524.9 455.9 527.9 459.4 530.5 462.5C533.1 465.6 534.6 468.8 536.5 472.0C538.4 475.2 540.1 477.9 541.6 481.6C543.1 485.3 544.6 489.3 545.6 494.0C546.6 498.7 547.2 504.0 547.6 510.0C548.0 516.0 547.8 523.3 548.0 530.0C548.2 536.7 548.7 543.3 549.0 550.0C549.3 556.7 549.2 563.3 550.0 570.0C550.8 576.7 552.3 583.3 554.0 590.0C555.7 596.7 558.0 603.3 560.0 610.0C562.0 616.7 564.3 625.0 566.0 630.0C567.7 635.0 568.7 635.8 570.0 640.0C571.3 644.2 572.7 650.0 574.0 655.0C575.3 660.0 576.8 665.0 578.0 670.0C579.2 675.0 580.2 680.7 581.0 685.0C581.8 689.3 582.7 694.2 583.0 696.0" stroke="#d21f31" stroke-width="4.14"/>
<path d="M383.0 480.0C382.0 481.3 378.7 485.0 377.0 488.0C375.3 491.0 374.0 495.2 373.0 498.0C372.0 500.8 371.3 503.8 371.0 505.0" stroke="#c4343e" stroke-width="2.22"/>
<path d="M544.0 480.0C545.0 481.3 548.3 485.0 550.0 488.0C551.7 491.0 553.0 495.2 554.0 498.0C555.0 500.8 555.7 503.8 556.0 505.0" stroke="#c4343e" stroke-width="2.22"/>
<path d="M394.0 485.0C394.5 486.7 396.7 490.8 397.0 495.0C397.3 499.2 396.5 505.8 396.0 510.0C395.5 514.2 394.3 518.3 394.0 520.0" stroke="#b5563f" stroke-width="2.10"/>
<path d="M533.0 485.0C532.5 486.7 530.3 490.8 530.0 495.0C529.7 499.2 530.5 505.8 531.0 510.0C531.5 514.2 532.7 518.3 533.0 520.0" stroke="#b5563f" stroke-width="2.10"/>
<path d="M377.0 550.0C376.5 551.7 375.2 556.7 374.0 560.0C372.8 563.3 371.2 566.7 370.0 570.0C368.8 573.3 368.3 575.7 367.0 580.0C365.7 584.3 363.5 590.7 362.0 596.0C360.5 601.3 358.7 609.3 358.0 612.0" stroke="#c4343e" stroke-width="2.22"/>
<path d="M550.0 550.0C550.5 551.7 551.8 556.7 553.0 560.0C554.2 563.3 555.8 566.7 557.0 570.0C558.2 573.3 558.7 575.7 560.0 580.0C561.3 584.3 563.5 590.7 565.0 596.0C566.5 601.3 568.3 609.3 569.0 612.0" stroke="#c4343e" stroke-width="2.22"/>
<path d="M371.0 585.0C370.2 587.5 367.7 595.0 366.0 600.0C364.3 605.0 362.7 610.0 361.0 615.0C359.3 620.0 357.5 624.5 356.0 630.0C354.5 635.5 353.2 642.2 352.0 648.0C350.8 653.8 350.0 659.7 349.0 665.0C348.0 670.3 346.5 677.5 346.0 680.0" stroke="#e7667f" stroke-width="2.46"/>
<path d="M556.0 585.0C556.8 587.5 559.3 595.0 561.0 600.0C562.7 605.0 564.3 610.0 566.0 615.0C567.7 620.0 569.5 624.5 571.0 630.0C572.5 635.5 573.8 642.2 575.0 648.0C576.2 653.8 577.0 659.7 578.0 665.0C579.0 670.3 580.5 677.5 581.0 680.0" stroke="#e7667f" stroke-width="2.46"/>
<path d="M399.0 463.0C397.8 464.5 394.1 468.5 392.0 472.0C389.9 475.5 387.9 479.7 386.5 484.0C385.1 488.3 384.2 493.0 383.5 498.0C382.8 503.0 382.3 508.7 382.0 514.0C381.7 519.3 381.5 524.7 381.5 530.0C381.5 535.3 382.1 540.7 382.0 546.0C381.9 551.3 381.6 556.7 381.0 562.0C380.4 567.3 379.7 572.7 378.5 578.0C377.3 583.3 374.8 591.3 374.0 594.0" stroke="#c4343e" stroke-width="2.70"/>
<path d="M528.0 463.0C529.2 464.5 532.9 468.5 535.0 472.0C537.1 475.5 539.1 479.7 540.5 484.0C541.9 488.3 542.8 493.0 543.5 498.0C544.2 503.0 544.7 508.7 545.0 514.0C545.3 519.3 545.5 524.7 545.5 530.0C545.5 535.3 544.9 540.7 545.0 546.0C545.1 551.3 545.4 556.7 546.0 562.0C546.6 567.3 547.3 572.7 548.5 578.0C549.7 583.3 552.2 591.3 553.0 594.0" stroke="#c4343e" stroke-width="2.70"/>
<path d="M388.0 492.0C387.8 494.7 386.8 502.7 386.5 508.0C386.2 513.3 386.2 518.7 386.0 524.0C385.8 529.3 385.7 534.7 385.5 540.0C385.3 545.3 385.3 550.7 385.0 556.0C384.7 561.3 384.2 566.7 383.5 572.0C382.8 577.3 382.1 583.0 381.0 588.0C379.9 593.0 378.5 597.3 377.0 602.0C375.5 606.7 372.8 613.7 372.0 616.0" stroke="#8d5f9f" stroke-width="2.46"/>
<path d="M539.0 492.0C539.2 494.7 540.2 502.7 540.5 508.0C540.8 513.3 540.8 518.7 541.0 524.0C541.2 529.3 541.3 534.7 541.5 540.0C541.7 545.3 541.7 550.7 542.0 556.0C542.3 561.3 542.8 566.7 543.5 572.0C544.2 577.3 544.9 583.0 546.0 588.0C547.1 593.0 548.5 597.3 550.0 602.0C551.5 606.7 554.2 613.7 555.0 616.0" stroke="#8d5f9f" stroke-width="2.46"/>
<path d="M369.0 604.0C368.2 606.3 365.7 613.7 364.0 618.0C362.3 622.3 360.4 625.8 359.0 630.0C357.6 634.2 356.6 638.5 355.5 643.0C354.4 647.5 353.4 652.5 352.5 657.0C351.6 661.5 350.8 665.8 350.0 670.0C349.2 674.2 348.7 678.3 348.0 682.0C347.3 685.7 346.3 690.3 346.0 692.0" stroke="#d4506c" stroke-width="5.34"/>
<path d="M558.0 604.0C558.8 606.3 561.3 613.7 563.0 618.0C564.7 622.3 566.6 625.8 568.0 630.0C569.4 634.2 570.4 638.5 571.5 643.0C572.6 647.5 573.6 652.5 574.5 657.0C575.4 661.5 576.2 665.8 577.0 670.0C577.8 674.2 578.3 678.3 579.0 682.0C579.7 685.7 580.7 690.3 581.0 692.0" stroke="#d4506c" stroke-width="5.34"/>
<path d="M340.0 692.0C339.2 694.0 335.9 700.0 335.0 704.0C334.1 708.0 334.0 712.7 334.5 716.0C335.0 719.3 336.6 722.7 338.0 724.0C339.4 725.3 341.7 725.3 343.0 724.0C344.3 722.7 345.6 719.3 346.0 716.0C346.4 712.7 346.0 708.0 345.5 704.0C345.0 700.0 343.4 694.0 343.0 692.0" stroke="#c4343e" stroke-width="2.10"/>
<path d="M587.0 692.0C587.8 694.0 591.1 700.0 592.0 704.0C592.9 708.0 593.0 712.7 592.5 716.0C592.0 719.3 590.4 722.7 589.0 724.0C587.6 725.3 585.3 725.3 584.0 724.0C582.7 722.7 581.4 719.3 581.0 716.0C580.6 712.7 581.0 708.0 581.5 704.0C582.0 700.0 583.6 694.0 584.0 692.0" stroke="#c4343e" stroke-width="2.10"/>
<path d="M335.0 710.0C335.8 710.5 338.2 712.8 340.0 713.0C341.8 713.2 345.0 711.3 346.0 711.0" stroke="#c4343e" stroke-width="1.86"/>
<path d="M592.0 710.0C591.2 710.5 588.8 712.8 587.0 713.0C585.2 713.2 582.0 711.3 581.0 711.0" stroke="#c4343e" stroke-width="1.86"/>
<path d="M336.0 723.0C335.5 725.0 333.8 730.8 333.0 735.0C332.2 739.2 331.3 745.8 331.0 748.0" stroke="#c4343e" stroke-width="1.74"/>
<path d="M591.0 723.0C591.5 725.0 593.2 730.8 594.0 735.0C594.8 739.2 595.7 745.8 596.0 748.0" stroke="#c4343e" stroke-width="1.74"/>
<path d="M340.0 725.0C339.8 727.2 339.3 733.5 339.0 738.0C338.7 742.5 338.2 749.7 338.0 752.0" stroke="#c4343e" stroke-width="1.74"/>
<path d="M587.0 725.0C587.2 727.2 587.7 733.5 588.0 738.0C588.3 742.5 588.8 749.7 589.0 752.0" stroke="#c4343e" stroke-width="1.74"/>
<path d="M344.0 723.0C344.2 725.0 344.8 731.2 345.0 735.0C345.2 738.8 345.0 744.2 345.0 746.0" stroke="#c4343e" stroke-width="1.74"/>
<path d="M583.0 723.0C582.8 725.0 582.2 731.2 582.0 735.0C581.8 738.8 582.0 744.2 582.0 746.0" stroke="#c4343e" stroke-width="1.74"/>
<path d="M466.0 461.0C466.4 462.0 467.5 464.8 468.5 467.0C469.5 469.2 470.9 471.8 472.0 474.0C473.1 476.2 474.5 479.0 475.0 480.0" stroke="#d21f31" stroke-width="8.70"/>
<path d="M460.0 507.2C458.0 507.1 452.0 506.7 448.2 506.5C444.4 506.3 438.9 505.9 437.0 505.8" stroke="#d21f31" stroke-width="5.10"/>
<path d="M437.0 505.8C435.1 505.3 429.3 503.7 425.8 503.0C422.3 502.3 419.0 501.4 416.0 501.6C413.0 501.8 409.9 503.5 407.6 504.4C405.3 505.3 402.9 506.7 402.0 507.2" stroke="#d21f31" stroke-width="3.42"/>
<path d="M409.0 505.0C408.2 505.8 404.8 509.2 404.0 510.0" stroke="#c4343e" stroke-width="2.22"/>
<path d="M439.0 507.2C437.7 509.1 433.4 514.7 431.4 518.4C429.4 522.1 428.4 525.9 427.2 529.6C426.0 533.3 425.6 537.5 424.4 540.8C423.2 544.1 420.9 547.8 420.2 549.2" stroke="#c4343e" stroke-width="2.94"/>
<path d="M427.2 538.0C428.8 538.9 433.5 541.3 437.0 543.6C440.5 545.9 445.4 549.9 448.2 552.0C451.0 554.1 452.9 555.5 453.8 556.2" stroke="#c4343e" stroke-width="2.22"/>
<path d="M496.0 510.0C497.8 510.0 503.8 509.3 507.0 510.0C510.2 510.7 513.1 512.3 515.4 514.2C517.7 516.1 519.8 518.4 521.0 521.2C522.2 524.0 522.4 528.2 522.4 531.0C522.4 533.8 521.2 536.8 521.0 538.0" stroke="#d21f31" stroke-width="3.18"/>
<path d="M495.8 501.6C497.7 501.4 503.3 500.2 507.0 500.2C510.7 500.2 514.9 501.6 518.2 501.6C521.5 501.6 525.2 500.4 526.6 500.2" stroke="#c4343e" stroke-width="2.46"/>
<path d="M510.0 511.5C510.2 512.9 511.2 517.2 511.0 520.0C510.8 522.8 509.3 526.7 509.0 528.0" stroke="#c4343e" stroke-width="2.10"/>
<path d="M441.2 649.6C441.9 651.0 443.5 655.0 445.4 658.0C447.3 661.0 450.8 663.8 452.4 667.8C454.0 671.8 454.7 679.5 455.2 681.8" stroke="#b5563f" stroke-width="2.22"/>
<path d="M479.0 655.2C477.6 656.6 472.7 660.8 470.6 663.6C468.5 666.4 467.1 669.0 466.4 672.0C465.7 675.0 466.4 680.2 466.4 681.8" stroke="#b5563f" stroke-width="2.22"/>
<path d="M425.8 770.0C427.0 770.9 431.1 772.8 432.8 775.6C434.6 778.4 435.6 781.7 436.3 786.8C437.0 791.9 436.9 803.1 437.0 806.4" stroke="#c4343e" stroke-width="2.46"/>
<path d="M423.0 767.2C421.8 769.1 417.9 773.7 416.0 778.4C414.1 783.1 412.6 789.6 411.8 795.2C411.0 800.8 411.6 805.7 411.1 812.0C410.6 818.3 409.4 829.5 409.0 833.0" stroke="#c4343e" stroke-width="2.46"/>
<path d="M494.7 770.0C493.5 770.9 489.1 772.8 487.4 775.6C485.7 778.4 485.2 781.9 484.6 786.8C484.0 791.7 484.0 802.0 483.9 805.0" stroke="#c4343e" stroke-width="2.46"/>
<path d="M497.2 767.2C498.4 769.1 502.3 773.7 504.2 778.4C506.1 783.1 507.5 789.6 508.4 795.2C509.3 800.8 509.3 805.7 509.8 812.0C510.3 818.3 511.0 829.5 511.2 833.0" stroke="#c4343e" stroke-width="2.46"/>
<path d="M424.0 730.0C423.2 732.0 420.3 737.7 419.0 742.0C417.7 746.3 416.5 753.7 416.0 756.0" stroke="#c4343e" stroke-width="2.22"/>
<path d="M497.0 730.0C497.8 732.0 500.7 737.7 502.0 742.0C503.3 746.3 504.5 753.7 505.0 756.0" stroke="#c4343e" stroke-width="2.22"/>
<path d="M410.0 820.0C409.8 821.7 409.5 827.0 409.0 830.0C408.5 833.0 407.3 836.7 407.0 838.0" stroke="#b5563f" stroke-width="2.10"/>
<path d="M428.0 860.0C428.2 863.3 428.5 875.3 429.0 880.0C429.5 884.7 430.7 886.7 431.0 888.0" stroke="#b5563f" stroke-width="2.10"/>
<path d="M517.0 820.0C517.2 821.7 517.5 827.0 518.0 830.0C518.5 833.0 519.7 836.7 520.0 838.0" stroke="#b5563f" stroke-width="2.10"/>
<path d="M499.0 860.0C498.8 863.3 498.5 875.3 498.0 880.0C497.5 884.7 496.3 886.7 496.0 888.0" stroke="#b5563f" stroke-width="2.10"/>
<path d="M419.0 890.0C418.2 892.5 415.3 899.2 414.0 905.0C412.7 910.8 411.7 918.3 411.0 925.0C410.3 931.7 410.0 938.3 410.0 945.0C410.0 951.7 410.8 961.7 411.0 965.0" stroke="#c4343e" stroke-width="2.70"/>
<path d="M506.0 890.0C507.0 892.5 510.3 899.2 512.0 905.0C513.7 910.8 515.2 918.3 516.0 925.0C516.8 931.7 517.0 938.3 517.0 945.0C517.0 951.7 516.2 961.7 516.0 965.0" stroke="#c4343e" stroke-width="2.70"/>
<path d="M407.2 1054.0C406.2 1056.0 403.1 1062.7 401.0 1066.0C398.9 1069.3 396.2 1071.5 394.5 1074.0C392.8 1076.5 391.1 1079.2 391.0 1081.0C390.9 1082.8 391.7 1084.7 394.0 1085.0C396.3 1085.3 402.5 1084.2 405.0 1083.0C407.5 1081.8 408.4 1080.8 409.0 1078.0C409.6 1075.2 408.7 1069.7 408.5 1066.0C408.3 1062.3 408.1 1057.7 408.0 1056.0" stroke="#c4343e" stroke-width="2.46"/>
<path d="M409.0 1048.0C409.7 1050.0 412.7 1056.0 413.0 1060.0C413.3 1064.0 411.3 1070.0 411.0 1072.0" stroke="#c4343e" stroke-width="2.22"/>
<path d="M518.5 1054.0C519.6 1056.0 522.8 1062.7 525.0 1066.0C527.2 1069.3 529.8 1071.5 531.5 1074.0C533.2 1076.5 534.9 1079.2 535.0 1081.0C535.1 1082.8 534.3 1084.7 532.0 1085.0C529.7 1085.3 523.5 1084.2 521.0 1083.0C518.5 1081.8 517.6 1080.8 517.0 1078.0C516.4 1075.2 517.3 1069.7 517.5 1066.0C517.7 1062.3 517.9 1057.7 518.0 1056.0" stroke="#c4343e" stroke-width="2.46"/>
<path d="M517.0 1048.0C516.3 1050.0 513.3 1056.0 513.0 1060.0C512.7 1064.0 514.7 1070.0 515.0 1072.0" stroke="#c4343e" stroke-width="2.22"/>
<path d="M392.0 1084.0C391.1 1085.0 388.3 1088.0 386.5 1090.0C384.7 1092.0 381.9 1095.0 381.0 1096.0" stroke="#c4343e" stroke-width="1.74"/>
<path d="M535.0 1084.0C535.9 1085.0 538.7 1088.0 540.5 1090.0C542.3 1092.0 545.1 1095.0 546.0 1096.0" stroke="#c4343e" stroke-width="1.74"/>
<path d="M396.0 1087.0C395.4 1088.2 393.7 1092.0 392.5 1094.5C391.3 1097.0 389.6 1100.8 389.0 1102.0" stroke="#c4343e" stroke-width="1.74"/>
<path d="M531.0 1087.0C531.6 1088.2 533.3 1092.0 534.5 1094.5C535.7 1097.0 537.4 1100.8 538.0 1102.0" stroke="#c4343e" stroke-width="1.74"/>
<path d="M401.0 1087.0C400.8 1088.6 400.0 1093.3 399.5 1096.5C399.0 1099.7 398.2 1104.4 398.0 1106.0" stroke="#c4343e" stroke-width="1.74"/>
<path d="M526.0 1087.0C526.2 1088.6 527.0 1093.3 527.5 1096.5C528.0 1099.7 528.8 1104.4 529.0 1106.0" stroke="#c4343e" stroke-width="1.74"/>
<path d="M405.0 1086.0C405.2 1087.7 405.7 1092.7 406.0 1096.0C406.3 1099.3 406.8 1104.3 407.0 1106.0" stroke="#c4343e" stroke-width="1.74"/>
<path d="M522.0 1086.0C521.8 1087.7 521.3 1092.7 521.0 1096.0C520.7 1099.3 520.2 1104.3 520.0 1106.0" stroke="#c4343e" stroke-width="1.74"/>
<path d="M409.0 1082.0C409.4 1083.7 410.7 1088.7 411.5 1092.0C412.3 1095.3 413.6 1100.3 414.0 1102.0" stroke="#c4343e" stroke-width="1.74"/>
<path d="M518.0 1082.0C517.6 1083.7 516.3 1088.7 515.5 1092.0C514.7 1095.3 513.4 1100.3 513.0 1102.0" stroke="#c4343e" stroke-width="1.74"/>
<path d="M469.9 528.1L469.9 530.2L470.0 533.3L470.1 536.8L470.1 540.0L470.1 543.0L470.1 545.8L470.0 548.7L469.9 551.8L469.6 555.0L469.2 558.5L468.8 562.1L468.5 565.8L468.3 569.5L468.2 573.3L468.1 576.8L468.0 579.9L468.0 582.3L468.0 584.0L468.0 585.5L467.8 587.7L467.5 590.8L467.1 594.4L466.5 598.0L465.9 601.1L465.0 603.6L464.0 605.8L462.9 607.9L461.7 609.8L460.4 611.5L459.0 612.9L457.3 614.6L455.5 616.5L453.7 618.5L451.9 620.5L450.1 622.7L448.2 625.2L446.4 627.9L444.6 630.7L442.8 633.7L441.1 636.7L439.3 639.7L437.5 642.8L435.6 646.1L433.9 649.5L432.4 653.1L430.9 656.7L429.5 660.3L428.2 663.9L427.0 667.2L425.9 670.6L424.9 674.2L423.9 678.3L423.0 683.4L422.3 689.1L421.6 694.7L421.1 699.7L420.7 703.7L420.5 707.3L420.4 710.6L420.4 714.0L420.5 717.6L420.7 721.2L420.9 724.7L421.1 728.1L421.2 731.6L421.3 735.1L421.3 738.6L421.4 742.1L421.5 745.6L421.6 749.1L421.7 752.6L421.8 756.1L422.0 759.6L422.1 763.2L422.3 766.7L422.5 770.2L422.8 773.8L423.2 777.3L423.5 780.8L423.7 784.2L423.9 787.6L424.0 791.1L424.1 794.6L424.2 798.1L424.4 801.6L424.6 805.1L424.7 808.6L424.8 812.0L424.7 815.4L424.7 818.8L424.5 822.2L424.3 825.7L423.9 829.5L423.5 833.3L422.9 837.4L422.4 841.6L421.8 846.0L421.2 850.5L420.6 855.0L420.0 859.5L419.2 864.0L418.3 868.5L417.4 873.1L416.6 877.5L415.9 881.6L415.3 885.7L414.7 889.7L414.3 893.7L413.9 897.8L413.7 901.9L413.5 905.9L413.5 910.0L413.6 914.1L413.7 918.1L413.9 922.1L414.1 926.1L414.3 930.2L414.6 934.1L414.7 938.1L414.7 941.9L414.6 945.8L414.2 949.7L413.8 953.6L413.2 957.6L412.5 961.5L411.7 965.5L410.8 969.5L410.0 973.4L409.1 977.0L408.1 980.6L407.2 984.1L406.5 987.5L405.9 990.6L405.4 993.6L405.1 996.7L405.1 1000.1L405.4 1003.8L406.0 1007.7L406.7 1011.5L407.1 1015.2L407.4 1018.9L407.6 1022.7L407.7 1026.4L407.8 1029.9L407.6 1033.2L407.3 1036.3L406.9 1039.5L406.5 1042.8L406.2 1046.4L405.9 1050.1L405.6 1053.5L405.4 1055.8L409.0 1056.2L409.3 1053.8L409.6 1050.5L410.0 1046.7L410.5 1043.2L410.9 1040.1L411.5 1036.9L411.9 1033.6L412.2 1030.1L412.4 1026.4L412.3 1022.5L412.1 1018.7L411.9 1014.8L411.4 1010.8L410.7 1006.9L410.2 1003.3L409.9 999.9L410.1 997.0L410.4 994.3L410.9 991.5L411.5 988.5L412.3 985.3L413.2 981.9L414.2 978.4L415.2 974.6L416.2 970.8L417.1 966.7L418.0 962.6L418.8 958.4L419.4 954.4L419.9 950.3L420.2 946.2L420.5 942.1L420.5 937.9L420.3 933.9L420.1 929.8L419.9 925.9L419.7 921.9L419.5 917.9L419.4 913.9L419.3 910.0L419.4 906.1L419.5 902.1L419.8 898.2L420.1 894.3L420.6 890.4L421.2 886.6L421.9 882.6L422.6 878.5L423.4 874.2L424.3 869.7L425.2 865.1L426.0 860.5L426.8 855.9L427.4 851.3L428.0 846.8L428.6 842.4L429.2 838.2L429.8 834.2L430.3 830.2L430.7 826.3L431.0 822.5L431.1 819.0L431.2 815.5L431.2 812.0L431.2 808.4L431.1 804.9L430.9 801.4L430.8 797.9L430.7 794.4L430.6 790.9L430.4 787.4L430.3 783.8L430.0 780.2L429.7 776.7L429.3 773.2L429.1 769.8L428.9 766.3L428.7 762.8L428.5 759.4L428.4 755.9L428.3 752.4L428.2 748.9L428.1 745.4L428.0 741.9L427.9 738.4L427.9 734.9L427.8 731.4L427.7 727.9L427.5 724.3L427.3 720.8L427.1 717.4L427.0 714.0L427.0 710.7L427.1 707.6L427.4 704.2L427.7 700.3L428.2 695.5L428.9 689.9L429.7 684.4L430.5 679.7L431.4 675.8L432.3 672.6L433.4 669.4L434.6 666.1L435.8 662.6L437.2 659.2L438.6 655.7L440.1 652.5L441.7 649.3L443.4 646.2L445.2 643.1L446.9 640.1L448.7 637.2L450.4 634.3L452.1 631.6L453.8 629.2L455.5 627.0L457.1 625.0L458.9 623.0L460.5 621.1L462.1 619.4L463.8 617.8L465.6 616.0L467.3 613.8L468.8 611.4L470.2 608.9L471.5 606.1L472.5 602.9L473.4 599.3L474.0 595.4L474.4 591.6L474.8 588.3L475.0 585.9L475.0 584.0L475.0 582.3L475.0 580.1L475.1 577.0L475.2 573.5L475.3 569.8L475.5 566.2L475.8 562.8L476.2 559.3L476.6 555.7L476.9 552.2L477.0 549.0L477.1 545.9L477.1 543.0L477.1 540.0L477.1 536.7L477.0 533.2L477.0 530.1L476.9 527.9Z" fill="#d21f31" stroke="none"/>
<path d="M461.1 614.5L462.0 616.2L463.2 618.8L464.8 621.7L466.4 624.6L468.0 627.4L469.8 630.2L471.6 633.0L473.4 635.9L475.1 638.9L476.9 642.1L478.7 645.3L480.3 648.3L481.9 651.2L483.3 653.8L484.6 656.4L485.8 659.2L486.9 662.3L487.9 665.7L488.9 669.3L489.8 672.8L490.6 676.2L491.3 679.6L491.9 683.1L492.6 686.7L493.4 690.2L494.2 693.7L494.9 697.0L495.3 700.3L495.4 703.5L495.3 706.8L495.0 710.3L494.7 713.8L494.5 717.3L494.3 720.8L494.1 724.3L493.9 727.8L493.8 731.3L493.6 734.8L493.4 738.3L493.2 741.8L493.1 745.3L492.9 748.8L492.7 752.3L492.5 755.8L492.3 759.3L492.0 762.7L491.7 766.2L491.4 769.7L491.2 773.2L490.9 776.8L490.6 780.3L490.4 783.8L490.3 787.4L490.1 790.9L490.0 794.5L490.0 798.0L490.1 801.6L490.3 805.2L490.5 808.7L490.7 812.3L491.1 815.8L491.4 819.2L491.8 822.7L492.3 826.4L492.7 830.1L493.1 834.0L493.6 838.1L494.1 842.4L494.7 847.2L495.5 852.4L496.2 857.7L497.1 862.6L498.1 867.0L499.2 871.1L500.2 874.9L501.2 878.7L502.1 882.7L503.0 886.6L503.7 890.5L504.4 894.5L505.0 898.4L505.5 902.3L505.8 906.2L506.1 910.1L506.1 913.9L505.9 917.9L505.7 921.8L505.5 925.9L505.3 929.8L505.1 933.9L504.9 937.9L504.9 942.1L505.1 946.2L505.4 950.3L505.9 954.3L506.4 958.4L507.0 962.5L507.7 966.6L508.5 970.7L509.3 974.6L510.2 978.3L511.2 981.9L512.1 985.3L512.9 988.6L513.6 991.6L514.3 994.4L514.8 997.1L515.0 1000.0L514.9 1003.3L514.5 1007.0L514.0 1010.9L513.6 1014.8L513.4 1018.7L513.2 1022.6L513.2 1026.4L513.3 1030.1L513.6 1033.6L514.0 1036.9L514.5 1040.1L515.0 1043.2L515.5 1046.8L516.0 1050.5L516.4 1053.9L516.7 1056.2L520.3 1055.8L520.1 1053.5L519.7 1050.1L519.3 1046.3L519.0 1042.8L518.7 1039.5L518.4 1036.4L518.1 1033.2L517.9 1029.9L517.9 1026.4L518.0 1022.7L518.2 1018.9L518.4 1015.2L518.8 1011.5L519.3 1007.6L519.8 1003.7L520.0 1000.0L519.8 996.5L519.3 993.5L518.7 990.5L518.1 987.4L517.3 984.0L516.4 980.6L515.5 977.0L514.7 973.4L514.0 969.6L513.3 965.6L512.6 961.6L512.0 957.6L511.5 953.7L511.1 949.7L510.8 945.8L510.7 941.9L510.7 938.1L510.8 934.1L511.1 930.2L511.3 926.1L511.5 922.2L511.8 918.1L511.9 914.1L511.9 909.9L511.7 905.8L511.4 901.7L510.9 897.6L510.4 893.5L509.7 889.5L508.9 885.4L508.1 881.3L507.2 877.3L506.2 873.3L505.2 869.4L504.2 865.6L503.3 861.4L502.5 856.7L501.8 851.6L501.1 846.4L500.5 841.6L500.0 837.3L499.5 833.3L499.1 829.4L498.7 825.6L498.3 822.0L497.9 818.5L497.6 815.1L497.3 811.7L497.0 808.3L496.8 804.8L496.6 801.4L496.6 798.0L496.6 794.5L496.7 791.1L496.8 787.6L497.0 784.2L497.2 780.7L497.4 777.2L497.7 773.8L498.0 770.3L498.2 766.8L498.5 763.3L498.8 759.7L499.1 756.2L499.3 752.7L499.4 749.2L499.6 745.7L499.8 742.2L499.9 738.7L500.1 735.2L500.3 731.7L500.5 728.2L500.7 724.7L500.9 721.2L501.1 717.7L501.3 714.2L501.5 710.7L501.8 707.2L502.0 703.5L501.9 699.7L501.4 696.0L500.6 692.3L499.8 688.8L499.0 685.3L498.3 681.9L497.7 678.4L497.0 674.8L496.2 671.2L495.2 667.6L494.2 663.9L493.1 660.3L491.8 656.8L490.5 653.7L489.1 650.8L487.6 648.1L486.1 645.3L484.4 642.2L482.6 638.9L480.8 635.7L479.0 632.5L477.2 629.5L475.3 626.7L473.6 624.0L472.0 621.4L470.5 618.6L469.1 615.8L467.8 613.3L466.9 611.5Z" fill="#d21f31" stroke="none"/>
</g>
<path id="heart" d="M458.6 496.0C457.7 499.4 456.8 502.6 457.0 506.0C457.2 509.4 458.2 513.2 459.6 516.5C461.0 519.8 463.2 522.8 465.4 525.5C467.6 528.2 469.9 531.0 472.6 532.6C475.3 534.2 478.5 535.2 481.8 535.4C485.1 535.6 489.4 535.7 492.2 534.0C495.0 532.3 497.1 528.5 498.4 525.0C499.7 521.5 499.9 516.3 499.8 512.8C499.7 509.3 497.9 506.6 497.8 504.0C497.7 501.4 499.3 499.5 499.0 497.0C498.7 494.5 497.3 491.2 496.0 489.0C494.7 486.8 492.5 485.8 491.0 484.0C489.5 482.2 488.6 480.2 487.0 478.0C485.4 475.8 483.7 472.0 481.4 470.6C479.1 469.2 475.8 468.6 473.4 469.4C471.0 470.2 468.8 472.7 467.0 475.4C465.2 478.1 464.0 482.2 462.6 485.6C461.2 489.0 459.5 492.6 458.6 496.0Z" fill="#e0142c"/>
<path d="M479.5 483.5q2.5-3 4.5-0.5q1.5 3-1 5.5q-3 1.500-4.500-1.500z" fill="#6d7fc0"/>
</g>
<g id="box1">
<path d="M628.4 478.5V490.5M628.4 495V514M628.8 517.5V519.5" stroke="#7a7a7a" stroke-width="2" fill="none" stroke-linecap="round"/>
<path d="M797.2 485V502.5M797.2 505.5V515" stroke="#8a8a8a" stroke-width="1.3" fill="none" stroke-linecap="round"/>
<rect x="632.2" y="472" width="163" height="51.6" rx="4.5" ry="4.5" fill="#fff" stroke="#5a5a5a" stroke-width="1.4"/>
</g>
<g id="box2">
<rect x="604.2" y="637.8" width="197.6" height="59.4" fill="#3d9fdb"/>
<rect x="613" y="640.8" width="185.5" height="49.2" rx="2" ry="2" fill="#fff" stroke="#2f86bd" stroke-width="0.8"/>
</g>
<g id="box3">
<rect x="187.8" y="839.3" width="200.2" height="66" fill="#cf5257"/>
<rect x="195.2" y="842.2" width="191" height="57.6" rx="2" ry="2" fill="#fff" stroke="#a8444a" stroke-width="0.8"/>
</g>
<g id="arrows" fill="#0d0d0d" stroke="#0d0d0d" stroke-width="0.6" stroke-linejoin="round">
<path d="M486.7 504.2L487.7 503.6L489.0 502.8L490.6 501.8L492.4 500.8L494.3 499.8L496.3 498.8L498.4 497.9L500.6 496.9L503.0 495.9L505.4 494.9L507.9 493.9L510.4 492.9L512.9 492.0L515.4 491.1L518.1 490.3L520.7 489.5L523.5 488.8L526.3 488.1L529.1 487.6L532.1 487.1L535.2 486.7L538.2 486.4L541.3 486.0L544.2 485.8L546.9 485.5L549.6 485.3L552.2 485.1L554.8 485.0L557.4 484.9L560.0 484.8L562.7 484.8L565.3 484.8L568.0 484.8L570.6 484.9L573.3 485.0L575.9 485.2L578.5 485.4L581.2 485.6L583.8 485.9L586.5 486.2L589.1 486.5L591.8 486.9L594.5 487.3L597.3 487.7L600.1 488.2L602.8 488.6L605.4 489.1L607.8 489.4L610.0 489.7L612.1 490.0L614.1 490.3L615.9 490.5L617.3 490.7L618.4 490.8L618.8 487.6L617.7 487.5L616.2 487.3L614.5 487.1L612.5 486.8L610.4 486.5L608.2 486.2L605.9 485.8L603.4 485.3L600.6 484.8L597.8 484.4L595.0 483.9L592.2 483.5L589.5 483.2L586.9 482.9L584.2 482.6L581.5 482.4L578.8 482.2L576.1 482.0L573.4 481.9L570.7 481.8L568.0 481.7L565.3 481.7L562.7 481.7L560.0 481.8L557.3 481.9L554.7 482.0L552.0 482.1L549.4 482.3L546.6 482.5L543.8 482.8L540.9 483.2L537.9 483.6L534.8 484.1L531.7 484.6L528.7 485.2L525.7 485.9L522.9 486.6L520.1 487.4L517.4 488.3L514.8 489.2L512.2 490.1L509.6 491.1L507.1 492.1L504.7 493.1L502.2 494.3L499.9 495.4L497.7 496.5L495.7 497.6L493.7 498.7L491.8 499.8L490.0 500.9L488.5 501.9L487.1 502.8L486.1 503.4Z"/>
<path d="M594.6 468.5L595.3 469.1L596.3 470.1L597.3 471.3L598.5 472.6L599.7 473.9L600.8 475.2L602.0 476.5L603.2 477.8L604.5 479.0L605.9 480.3L607.3 481.7L608.7 483.0L610.2 484.4L612.0 486.0L613.7 487.6L615.4 489.0L616.8 490.2L617.8 491.1L620.6 487.7L619.6 486.9L618.2 485.7L616.5 484.3L614.7 482.8L612.9 481.3L611.3 480.0L609.9 478.8L608.5 477.5L607.2 476.3L605.8 475.0L604.5 473.8L603.2 472.8L601.7 471.7L600.3 470.6L598.9 469.6L597.6 468.6L596.5 467.8L595.8 467.1Z"/>
<path d="M592.4 502.1L593.3 501.7L594.4 501.1L595.9 500.5L597.5 499.9L599.1 499.3L600.7 498.7L602.3 498.1L604.0 497.4L605.7 496.6L607.4 495.9L609.1 495.2L610.7 494.6L612.4 494.0L614.2 493.4L616.0 492.8L617.6 492.3L618.9 491.8L619.9 491.5L618.5 487.3L617.5 487.7L616.1 488.2L614.5 488.8L612.7 489.5L611.0 490.2L609.3 491.0L607.6 491.7L605.9 492.5L604.2 493.3L602.5 494.1L600.8 494.9L599.3 495.7L597.8 496.6L596.3 497.6L594.9 498.6L593.6 499.5L592.4 500.2L591.6 500.7Z"/>
<path d="M459.5 545.4L460.1 546.5L460.8 548.1L461.8 550.0L462.8 552.1L463.9 554.1L465.1 556.0L466.4 557.8L467.7 559.5L469.1 561.2L470.7 562.9L472.5 564.4L474.4 565.8L476.5 567.1L478.7 568.2L481.0 569.3L483.5 570.2L486.0 571.0L488.7 571.8L491.5 572.4L494.5 573.0L497.5 573.4L500.7 573.8L504.0 574.0L507.5 574.2L511.1 574.2L514.9 574.1L518.8 574.0L522.8 573.7L526.7 573.4L530.6 573.2L534.5 572.9L538.3 572.6L542.2 572.2L546.0 571.9L549.8 571.6L553.6 571.3L557.5 571.0L561.3 570.7L565.1 570.5L568.9 570.3L572.7 570.2L576.5 570.1L580.4 570.2L584.4 570.3L588.3 570.5L592.2 570.7L595.9 571.1L599.2 571.5L602.3 572.0L605.0 572.5L607.6 573.1L610.0 573.8L612.4 574.6L614.7 575.6L617.1 576.6L619.4 577.8L621.6 579.0L623.8 580.4L625.9 581.9L627.9 583.5L629.9 585.2L631.9 587.2L633.8 589.3L635.7 591.4L637.3 593.6L638.9 595.8L640.2 597.9L641.5 600.1L642.6 602.3L643.6 604.6L644.5 606.8L645.4 609.1L646.1 611.3L646.8 613.6L647.4 615.8L647.9 618.0L648.2 620.2L648.5 622.2L648.6 624.2L648.6 626.4L648.4 628.6L648.2 630.7L647.9 632.4L647.8 633.8L652.6 634.2L652.7 633.0L652.9 631.2L653.2 629.1L653.4 626.7L653.6 624.2L653.5 621.8L653.2 619.4L652.9 617.1L652.4 614.6L651.8 612.2L651.1 609.7L650.2 607.3L649.3 604.9L648.3 602.5L647.2 600.1L645.9 597.7L644.5 595.3L642.9 593.0L641.2 590.7L639.3 588.4L637.3 586.1L635.2 583.9L633.1 581.8L630.9 579.9L628.6 578.2L626.3 576.6L624.0 575.1L621.5 573.7L619.0 572.5L616.5 571.4L613.9 570.5L611.3 569.6L608.7 568.9L605.9 568.3L603.0 567.8L599.8 567.3L596.3 567.0L592.5 566.7L588.5 566.5L584.5 566.4L580.4 566.3L576.5 566.3L572.6 566.4L568.7 566.5L564.9 566.7L561.0 567.0L557.2 567.2L553.4 567.5L549.5 567.8L545.7 568.2L541.8 568.6L538.0 569.0L534.2 569.3L530.4 569.6L526.5 569.9L522.5 570.2L518.6 570.5L514.8 570.7L511.0 570.8L507.5 570.8L504.2 570.7L501.0 570.5L497.9 570.1L495.0 569.7L492.2 569.2L489.5 568.6L486.9 567.9L484.5 567.2L482.2 566.3L480.1 565.3L478.1 564.3L476.2 563.2L474.4 561.9L472.8 560.6L471.3 559.2L469.8 557.7L468.4 556.1L467.1 554.6L465.8 552.9L464.6 551.0L463.5 549.1L462.5 547.3L461.7 545.7L461.1 544.6Z"/>
<path d="M628.9 614.8L629.6 615.2L630.6 615.9L631.6 616.8L632.8 617.8L633.9 618.8L634.9 619.9L635.8 621.0L636.9 622.1L638.0 623.2L639.1 624.3L640.2 625.6L641.3 626.9L642.5 628.4L643.7 630.2L645.0 632.1L646.2 633.9L647.3 635.5L648.0 636.6L652.0 633.8L651.2 632.7L650.1 631.2L648.8 629.4L647.4 627.6L646.0 625.7L644.7 624.1L643.4 622.7L642.2 621.4L641.0 620.2L639.7 619.0L638.5 618.0L637.1 617.1L635.7 616.3L634.3 615.5L632.9 614.9L631.6 614.2L630.6 613.7L629.9 613.2Z"/>
<path d="M664.6 599.9L664.3 601.2L663.9 602.9L663.3 605.0L662.7 607.3L661.9 609.5L661.1 611.4L660.4 613.3L659.7 615.3L658.9 617.2L658.0 619.2L657.1 621.1L656.1 622.9L654.9 624.8L653.4 626.9L651.8 628.9L650.3 630.9L649.0 632.5L648.1 633.8L651.9 636.6L652.8 635.4L654.1 633.8L655.6 631.8L657.1 629.5L658.6 627.3L659.9 625.1L661.0 623.0L661.9 620.9L662.8 618.9L663.6 616.8L664.3 614.7L664.9 612.6L665.3 610.3L665.5 607.8L665.7 605.5L665.8 603.3L666.0 601.5L666.2 600.1Z"/>
<path d="M334.7 729.1L334.1 730.8L333.2 733.2L332.0 736.0L330.8 739.1L329.5 742.1L328.3 745.0L327.0 747.8L325.6 750.6L324.2 753.5L322.8 756.4L321.3 759.2L319.8 761.9L318.4 764.5L317.0 767.0L315.6 769.5L314.2 772.0L312.7 774.5L311.3 777.0L309.9 779.6L308.4 782.2L306.9 784.8L305.4 787.3L304.0 789.9L302.7 792.4L301.5 794.7L300.4 797.0L299.4 799.3L298.4 801.5L297.4 803.8L296.5 806.0L295.6 808.4L294.8 810.7L294.0 813.1L293.3 815.4L292.7 817.7L292.1 819.8L291.7 821.9L291.4 824.0L291.2 826.1L291.0 827.8L290.8 829.3L290.7 830.4L293.9 830.8L294.0 829.7L294.2 828.2L294.4 826.4L294.7 824.5L295.0 822.5L295.5 820.6L296.0 818.6L296.6 816.4L297.2 814.1L297.9 811.8L298.7 809.4L299.5 807.2L300.3 804.9L301.2 802.7L302.1 800.5L303.1 798.3L304.1 796.0L305.3 793.6L306.5 791.2L307.9 788.7L309.3 786.1L310.8 783.5L312.3 780.9L313.7 778.4L315.1 775.9L316.5 773.4L317.9 770.9L319.3 768.3L320.7 765.8L322.2 763.1L323.6 760.4L325.0 757.5L326.5 754.6L327.9 751.7L329.3 748.8L330.5 746.0L331.7 743.0L332.8 739.8L333.8 736.7L334.7 733.7L335.5 731.3L336.1 729.5Z"/>
<path d="M285.1 797.3L285.2 798.5L285.2 800.1L285.2 802.0L285.2 804.1L285.2 806.2L285.3 808.2L285.5 810.0L285.8 811.9L286.2 813.7L286.5 815.6L286.9 817.5L287.3 819.4L287.8 821.5L288.4 823.8L289.1 826.1L289.7 828.2L290.2 830.0L290.6 831.3L294.0 830.3L293.6 829.0L293.0 827.2L292.3 825.1L291.6 822.8L290.9 820.6L290.3 818.6L289.8 816.8L289.3 815.0L288.9 813.2L288.6 811.4L288.2 809.6L287.9 807.8L287.5 806.0L287.2 803.9L286.8 801.9L286.6 800.0L286.4 798.4L286.3 797.3Z"/>
<path d="M314.1 810.7L313.2 811.1L311.9 811.6L310.3 812.2L308.6 812.9L306.9 813.6L305.3 814.4L303.9 815.4L302.5 816.4L301.2 817.4L299.9 818.6L298.6 819.7L297.4 821.0L296.1 822.5L294.8 824.2L293.5 825.9L292.4 827.5L291.5 828.9L290.8 829.8L293.8 831.8L294.4 830.8L295.3 829.4L296.3 827.7L297.4 826.0L298.5 824.4L299.6 823.0L300.7 821.8L301.8 820.6L303.0 819.5L304.2 818.5L305.5 817.5L306.7 816.6L308.0 815.6L309.5 814.6L311.0 813.7L312.5 812.8L313.7 812.2L314.7 811.7Z"/>
</g>
<g id="captions" class="cap">
<text x="636" y="724" textLength="132.5" lengthAdjust="spacingAndGlyphs">Carry blood</text>
<text x="636" y="749" textLength="123" lengthAdjust="spacingAndGlyphs">toward the</text>
<text x="635.5" y="775.5" textLength="67.5" lengthAdjust="spacingAndGlyphs">heart.</text>
<text x="210.5" y="935.2" textLength="132.5" lengthAdjust="spacingAndGlyphs">Carry blood</text>
<text x="210.5" y="961.8" textLength="125" lengthAdjust="spacingAndGlyphs">away from</text>
<text x="210.5" y="986.4" textLength="109" lengthAdjust="spacingAndGlyphs">the heart.</text>
</g>
<g id="icons" filter="url(#soft2)">
<g transform="translate(120.00,1010.00) scale(0.1600)" stroke-linejoin="round" stroke-linecap="round">
<path d="M200 240L258 158" stroke="#2d3a3a" stroke-width="46" fill="none"/>
<path d="M200 240L258 158" stroke="#4fae9f" stroke-width="26" fill="none"/>
<path d="M110.0 330.0C101.7 350.0 96.7 375.0 100.0 400.0C103.3 425.0 115.0 456.7 130.0 480.0C145.0 503.3 168.3 524.2 190.0 540.0C211.7 555.8 236.7 571.7 260.0 575.0C283.3 578.3 311.7 572.5 330.0 560.0C348.3 547.5 360.8 523.3 370.0 500.0C379.2 476.7 382.5 446.7 385.0 420.0C387.5 393.3 387.5 363.3 385.0 340.0C382.5 316.7 369.2 300.0 370.0 280.0C370.8 260.0 385.0 240.0 390.0 220.0C395.0 200.0 403.3 175.8 400.0 160.0C396.7 144.2 381.7 130.8 370.0 125.0C358.3 119.2 341.7 119.2 330.0 125.0C318.3 130.8 311.7 147.5 300.0 160.0C288.3 172.5 276.7 186.7 260.0 200.0C243.3 213.3 218.3 226.7 200.0 240.0C181.7 253.3 165.0 265.0 150.0 280.0C135.0 295.0 118.3 310.0 110.0 330.0Z" fill="#f6525a" stroke="#2e1114" stroke-width="14" stroke-dasharray="24 20"/>
<path d="M300 165L315 120L335 150L350 118L372 150" fill="none" stroke="#3a1518" stroke-width="10"/>
<path d="M335 250L435 262" stroke="#2d3a3a" stroke-width="42" fill="none"/>
<path d="M338 250L432 262" stroke="#5ab3b0" stroke-width="28" fill="none"/>
<path d="M130 350Q200 320 270 280M270 280Q260 230 280 190M270 280Q330 260 350 220" fill="none" stroke="#5a1a1e" stroke-width="9" stroke-dasharray="24 20"/>
<path d="M300 330Q340 400 320 470" fill="none" stroke="#f97f80" stroke-width="26" opacity="0.6"/>
</g>
<path transform="translate(120.00,1010.00) scale(0.1600)" d="M500 250H640V210L775 290L640 375V335H500Z" fill="#e8222c"/>
<g transform="translate(235.00,1010.00) scale(0.1400)" stroke-linejoin="round" stroke-linecap="round">
<path d="M443 122H488V262H443Z" fill="#6a6566" stroke="#2b1a1c" stroke-width="12"/>
<path d="M455 140H482M455 170H482M455 200H482M455 232H482" stroke="#c9c4c4" stroke-width="9" fill="none"/>
<path d="M440 250V330M497 250V500" stroke="#3a2226" stroke-width="8" fill="none"/>
<path d="M418 262H445M490 262H520" stroke="#3a2226" stroke-width="9" fill="none"/>
<path d="M320.0 110.0C305.8 114.2 278.3 123.3 260.0 140.0C241.7 156.7 226.7 181.7 210.0 210.0C193.3 238.3 175.0 275.0 160.0 310.0C145.0 345.0 130.8 383.3 120.0 420.0C109.2 456.7 100.8 493.3 95.0 530.0C89.2 566.7 86.7 608.3 85.0 640.0C83.3 671.7 80.8 705.0 85.0 720.0C89.2 735.0 97.5 731.7 110.0 730.0C122.5 728.3 140.0 717.5 160.0 710.0C180.0 702.5 205.0 691.7 230.0 685.0C255.0 678.3 285.0 674.2 310.0 670.0C335.0 665.8 362.5 668.3 380.0 660.0C397.5 651.7 407.5 643.3 415.0 620.0C422.5 596.7 423.3 553.3 425.0 520.0C426.7 486.7 426.7 453.3 425.0 420.0C423.3 386.7 419.2 353.3 415.0 320.0C410.8 286.7 406.7 248.3 400.0 220.0C393.3 191.7 384.2 167.5 375.0 150.0C365.8 132.5 354.2 121.7 345.0 115.0C335.8 108.3 334.2 105.8 320.0 110.0Z" fill="#f2a3a9" stroke="#2e1518" stroke-width="15" stroke-dasharray="26 21"/>
<path d="M620.0 110.0C606.7 114.2 584.2 123.3 570.0 140.0C555.8 156.7 543.3 183.3 535.0 210.0C526.7 236.7 523.3 268.3 520.0 300.0C516.7 331.7 515.0 366.7 515.0 400.0C515.0 433.3 517.5 466.7 520.0 500.0C522.5 533.3 525.0 575.0 530.0 600.0C535.0 625.0 535.0 638.3 550.0 650.0C565.0 661.7 595.0 663.3 620.0 670.0C645.0 676.7 673.3 683.3 700.0 690.0C726.7 696.7 756.7 708.3 780.0 710.0C803.3 711.7 828.3 711.7 840.0 700.0C851.7 688.3 850.0 666.7 850.0 640.0C850.0 613.3 845.8 575.0 840.0 540.0C834.2 505.0 825.0 466.7 815.0 430.0C805.0 393.3 793.3 355.0 780.0 320.0C766.7 285.0 750.0 248.3 735.0 220.0C720.0 191.7 704.2 167.5 690.0 150.0C675.8 132.5 661.7 121.7 650.0 115.0C638.3 108.3 633.3 105.8 620.0 110.0Z" fill="#f2a3a9" stroke="#2e1518" stroke-width="15" stroke-dasharray="26 21"/>
<path d="M120 430Q200 485 300 500T420 470M150 480Q200 580 240 665M240 690Q330 660 400 610" fill="none" stroke="#a4505c" stroke-width="9" stroke-dasharray="24 20"/>
<path d="M280 491H342" fill="none" stroke="#7a2f3a" stroke-width="9"/>
<path d="M540 520Q590 620 640 650M640 640Q720 590 790 510T825 470M560 640Q650 660 760 665" fill="none" stroke="#a4505c" stroke-width="9" stroke-dasharray="24 20"/>
<path d="M100 722L215 690M690 700L835 702M560 640L610 655" fill="none" stroke="#4a1c22" stroke-width="13"/>
</g>
<g transform="translate(603.90,805.90) scale(0.1279)" stroke-linejoin="round" stroke-linecap="round">
<path d="M443 122H488V262H443Z" fill="#6a6566" stroke="#2b1a1c" stroke-width="12"/>
<path d="M455 140H482M455 170H482M455 200H482M455 232H482" stroke="#c9c4c4" stroke-width="9" fill="none"/>
<path d="M440 250V330M497 250V500" stroke="#3a2226" stroke-width="8" fill="none"/>
<path d="M418 262H445M490 262H520" stroke="#3a2226" stroke-width="9" fill="none"/>
<path d="M320.0 110.0C305.8 114.2 278.3 123.3 260.0 140.0C241.7 156.7 226.7 181.7 210.0 210.0C193.3 238.3 175.0 275.0 160.0 310.0C145.0 345.0 130.8 383.3 120.0 420.0C109.2 456.7 100.8 493.3 95.0 530.0C89.2 566.7 86.7 608.3 85.0 640.0C83.3 671.7 80.8 705.0 85.0 720.0C89.2 735.0 97.5 731.7 110.0 730.0C122.5 728.3 140.0 717.5 160.0 710.0C180.0 702.5 205.0 691.7 230.0 685.0C255.0 678.3 285.0 674.2 310.0 670.0C335.0 665.8 362.5 668.3 380.0 660.0C397.5 651.7 407.5 643.3 415.0 620.0C422.5 596.7 423.3 553.3 425.0 520.0C426.7 486.7 426.7 453.3 425.0 420.0C423.3 386.7 419.2 353.3 415.0 320.0C410.8 286.7 406.7 248.3 400.0 220.0C393.3 191.7 384.2 167.5 375.0 150.0C365.8 132.5 354.2 121.7 345.0 115.0C335.8 108.3 334.2 105.8 320.0 110.0Z" fill="#f2a3a9" stroke="#2e1518" stroke-width="15" stroke-dasharray="26 21"/>
<path d="M620.0 110.0C606.7 114.2 584.2 123.3 570.0 140.0C555.8 156.7 543.3 183.3 535.0 210.0C526.7 236.7 523.3 268.3 520.0 300.0C516.7 331.7 515.0 366.7 515.0 400.0C515.0 433.3 517.5 466.7 520.0 500.0C522.5 533.3 525.0 575.0 530.0 600.0C535.0 625.0 535.0 638.3 550.0 650.0C565.0 661.7 595.0 663.3 620.0 670.0C645.0 676.7 673.3 683.3 700.0 690.0C726.7 696.7 756.7 708.3 780.0 710.0C803.3 711.7 828.3 711.7 840.0 700.0C851.7 688.3 850.0 666.7 850.0 640.0C850.0 613.3 845.8 575.0 840.0 540.0C834.2 505.0 825.0 466.7 815.0 430.0C805.0 393.3 793.3 355.0 780.0 320.0C766.7 285.0 750.0 248.3 735.0 220.0C720.0 191.7 704.2 167.5 690.0 150.0C675.8 132.5 661.7 121.7 650.0 115.0C638.3 108.3 633.3 105.8 620.0 110.0Z" fill="#f2a3a9" stroke="#2e1518" stroke-width="15" stroke-dasharray="26 21"/>
<path d="M120 430Q200 485 300 500T420 470M150 480Q200 580 240 665M240 690Q330 660 400 610" fill="none" stroke="#a4505c" stroke-width="9" stroke-dasharray="24 20"/>
<path d="M280 491H342" fill="none" stroke="#7a2f3a" stroke-width="9"/>
<path d="M540 520Q590 620 640 650M640 640Q720 590 790 510T825 470M560 640Q650 660 760 665" fill="none" stroke="#a4505c" stroke-width="9" stroke-dasharray="24 20"/>
<path d="M100 722L215 690M690 700L835 702M560 640L610 655" fill="none" stroke="#4a1c22" stroke-width="13"/>
</g>
<path d="M718.6 844.2H737V838.6L757 850.8L737 864.2V857.8H718.6Z" fill="#1f9bdb"/>
<g transform="translate(783.40,803.80) scale(0.1440)" stroke-linejoin="round" stroke-linecap="round">
<path d="M200 240L258 158" stroke="#2d3a3a" stroke-width="46" fill="none"/>
<path d="M200 240L258 158" stroke="#4fae9f" stroke-width="26" fill="none"/>
<path d="M110.0 330.0C101.7 350.0 96.7 375.0 100.0 400.0C103.3 425.0 115.0 456.7 130.0 480.0C145.0 503.3 168.3 524.2 190.0 540.0C211.7 555.8 236.7 571.7 260.0 575.0C283.3 578.3 311.7 572.5 330.0 560.0C348.3 547.5 360.8 523.3 370.0 500.0C379.2 476.7 382.5 446.7 385.0 420.0C387.5 393.3 387.5 363.3 385.0 340.0C382.5 316.7 369.2 300.0 370.0 280.0C370.8 260.0 385.0 240.0 390.0 220.0C395.0 200.0 403.3 175.8 400.0 160.0C396.7 144.2 381.7 130.8 370.0 125.0C358.3 119.2 341.7 119.2 330.0 125.0C318.3 130.8 311.7 147.5 300.0 160.0C288.3 172.5 276.7 186.7 260.0 200.0C243.3 213.3 218.3 226.7 200.0 240.0C181.7 253.3 165.0 265.0 150.0 280.0C135.0 295.0 118.3 310.0 110.0 330.0Z" fill="#f6525a" stroke="#2e1114" stroke-width="14" stroke-dasharray="24 20"/>
<path d="M300 165L315 120L335 150L350 118L372 150" fill="none" stroke="#3a1518" stroke-width="10"/>
<path d="M335 250L435 262" stroke="#2d3a3a" stroke-width="42" fill="none"/>
<path d="M338 250L432 262" stroke="#5ab3b0" stroke-width="28" fill="none"/>
<path d="M130 350Q200 320 270 280M270 280Q260 230 280 190M270 280Q330 260 350 220" fill="none" stroke="#5a1a1e" stroke-width="9" stroke-dasharray="24 20"/>
<path d="M300 330Q340 400 320 470" fill="none" stroke="#f97f80" stroke-width="26" opacity="0.6"/>
</g>
</g>
</svg>
</body></html>
